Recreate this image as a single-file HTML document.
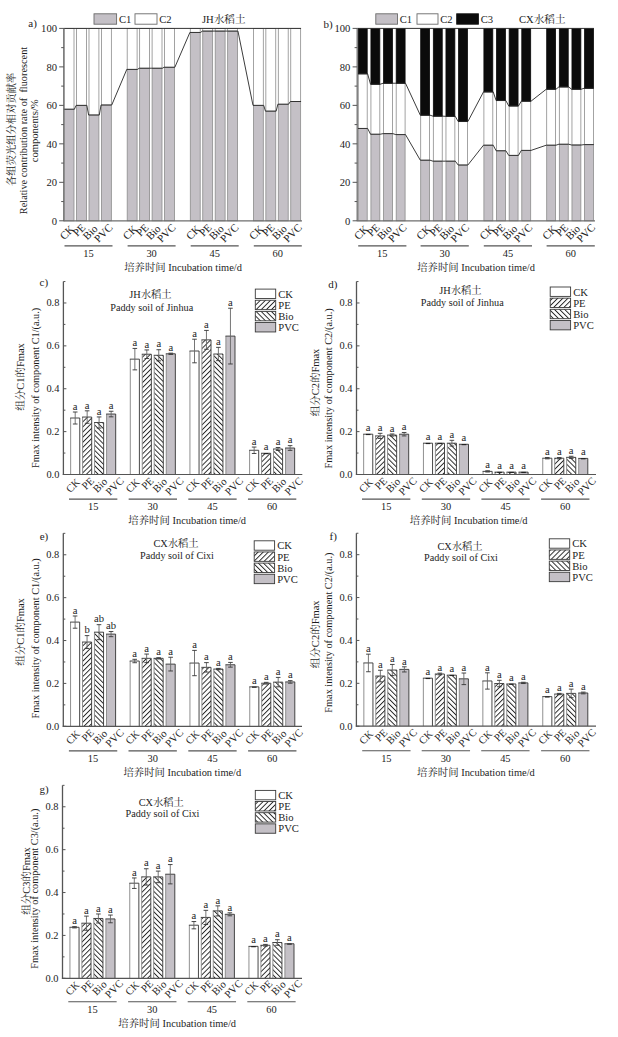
<!DOCTYPE html>
<html><head><meta charset="utf-8"><title>Figure</title>
<style>
html,body{margin:0;padding:0;background:#fff;}
body{width:618px;height:1037px;overflow:hidden;}
svg{display:block;}
text{font-family:'Liberation Serif','Noto Serif CJK SC',serif;fill:#1c1c1c;}
</style></head>
<body>
<svg width="618" height="1037" viewBox="0 0 618 1037">
<defs>
<pattern id="hpe" patternUnits="userSpaceOnUse" width="3.6" height="3.6" patternTransform="rotate(45)">
<rect width="3.6" height="3.6" fill="#fff"/><rect x="0" y="0" width="0.95" height="3.6" fill="#262626"/></pattern>
<pattern id="hbio" patternUnits="userSpaceOnUse" width="3.6" height="3.6" patternTransform="rotate(-45)">
<rect width="3.6" height="3.6" fill="#fff"/><rect x="0" y="0" width="0.95" height="3.6" fill="#262626"/></pattern>
</defs>
<rect width="618" height="1037" fill="#fff"/>
<rect x="64.1" y="109.21" width="9.9" height="111.59" fill="#c4c0c6" stroke="#8c8c8c" stroke-width="0.8" />
<rect x="64.1" y="28.4" width="9.9" height="80.81" fill="#ffffff" stroke="#8c8c8c" stroke-width="0.8" />
<rect x="76.55" y="105.36" width="9.9" height="115.44" fill="#c4c0c6" stroke="#8c8c8c" stroke-width="0.8" />
<rect x="76.55" y="28.4" width="9.9" height="76.96" fill="#ffffff" stroke="#8c8c8c" stroke-width="0.8" />
<rect x="89" y="114.98" width="9.9" height="105.82" fill="#c4c0c6" stroke="#8c8c8c" stroke-width="0.8" />
<rect x="89" y="28.4" width="9.9" height="86.58" fill="#ffffff" stroke="#8c8c8c" stroke-width="0.8" />
<rect x="101.45" y="104.98" width="9.9" height="115.82" fill="#c4c0c6" stroke="#8c8c8c" stroke-width="0.8" />
<rect x="101.45" y="28.4" width="9.9" height="76.58" fill="#ffffff" stroke="#8c8c8c" stroke-width="0.8" />
<rect x="127.2" y="69.38" width="9.9" height="151.42" fill="#c4c0c6" stroke="#8c8c8c" stroke-width="0.8" />
<rect x="127.2" y="28.4" width="9.9" height="40.98" fill="#ffffff" stroke="#8c8c8c" stroke-width="0.8" />
<rect x="139.65" y="68.23" width="9.9" height="152.57" fill="#c4c0c6" stroke="#8c8c8c" stroke-width="0.8" />
<rect x="139.65" y="28.4" width="9.9" height="39.83" fill="#ffffff" stroke="#8c8c8c" stroke-width="0.8" />
<rect x="152.1" y="68.23" width="9.9" height="152.57" fill="#c4c0c6" stroke="#8c8c8c" stroke-width="0.8" />
<rect x="152.1" y="28.4" width="9.9" height="39.83" fill="#ffffff" stroke="#8c8c8c" stroke-width="0.8" />
<rect x="164.55" y="67.26" width="9.9" height="153.54" fill="#c4c0c6" stroke="#8c8c8c" stroke-width="0.8" />
<rect x="164.55" y="28.4" width="9.9" height="38.86" fill="#ffffff" stroke="#8c8c8c" stroke-width="0.8" />
<rect x="190.3" y="32.44" width="9.9" height="188.36" fill="#c4c0c6" stroke="#8c8c8c" stroke-width="0.8" />
<rect x="190.3" y="28.4" width="9.9" height="4.04" fill="#ffffff" stroke="#8c8c8c" stroke-width="0.8" />
<rect x="202.75" y="31.09" width="9.9" height="189.71" fill="#c4c0c6" stroke="#8c8c8c" stroke-width="0.8" />
<rect x="202.75" y="28.4" width="9.9" height="2.69" fill="#ffffff" stroke="#8c8c8c" stroke-width="0.8" />
<rect x="215.2" y="31.09" width="9.9" height="189.71" fill="#c4c0c6" stroke="#8c8c8c" stroke-width="0.8" />
<rect x="215.2" y="28.4" width="9.9" height="2.69" fill="#ffffff" stroke="#8c8c8c" stroke-width="0.8" />
<rect x="227.65" y="31.09" width="9.9" height="189.71" fill="#c4c0c6" stroke="#8c8c8c" stroke-width="0.8" />
<rect x="227.65" y="28.4" width="9.9" height="2.69" fill="#ffffff" stroke="#8c8c8c" stroke-width="0.8" />
<rect x="253.4" y="105.36" width="9.9" height="115.44" fill="#c4c0c6" stroke="#8c8c8c" stroke-width="0.8" />
<rect x="253.4" y="28.4" width="9.9" height="76.96" fill="#ffffff" stroke="#8c8c8c" stroke-width="0.8" />
<rect x="265.85" y="111.13" width="9.9" height="109.67" fill="#c4c0c6" stroke="#8c8c8c" stroke-width="0.8" />
<rect x="265.85" y="28.4" width="9.9" height="82.73" fill="#ffffff" stroke="#8c8c8c" stroke-width="0.8" />
<rect x="278.3" y="104.21" width="9.9" height="116.59" fill="#c4c0c6" stroke="#8c8c8c" stroke-width="0.8" />
<rect x="278.3" y="28.4" width="9.9" height="75.81" fill="#ffffff" stroke="#8c8c8c" stroke-width="0.8" />
<rect x="290.75" y="101.51" width="9.9" height="119.29" fill="#c4c0c6" stroke="#8c8c8c" stroke-width="0.8" />
<rect x="290.75" y="28.4" width="9.9" height="73.11" fill="#ffffff" stroke="#8c8c8c" stroke-width="0.8" />
<path d="M63.7,109.21 L74.4,109.21 L76.15,105.36 L86.85,105.36 L88.6,114.98 L99.3,114.98 L101.05,104.98 L111.75,104.98 L126.8,69.38 L137.5,69.38 L139.25,68.23 L149.95,68.23 L151.7,68.23 L162.4,68.23 L164.15,67.26 L174.85,67.26 L189.9,32.44 L200.6,32.44 L202.35,31.09 L213.05,31.09 L214.8,31.09 L225.5,31.09 L227.25,31.09 L237.95,31.09 L253,105.36 L263.7,105.36 L265.45,111.13 L276.15,111.13 L277.9,104.21 L288.6,104.21 L290.35,101.51 L301.05,101.51" fill="none" stroke="#262626" stroke-width="0.9"/>
<line x1="63.8" y1="28.4" x2="301.05" y2="28.4" stroke="#333" stroke-width="1.0"/>
<line x1="63.8" y1="221.3" x2="63.8" y2="27.9" stroke="#6e6e6e" stroke-width="1.3"/>
<line x1="63.8" y1="220.8" x2="302" y2="220.8" stroke="#6e6e6e" stroke-width="1.2"/>
<line x1="59.2" y1="220.8" x2="63.8" y2="220.8" stroke="#555555" stroke-width="1.0"/>
<text x="57" y="224.8" font-size="10.6" text-anchor="end" >0</text>
<line x1="61.2" y1="201.56" x2="63.8" y2="201.56" stroke="#555555" stroke-width="1.0"/>
<line x1="59.2" y1="182.32" x2="63.8" y2="182.32" stroke="#555555" stroke-width="1.0"/>
<text x="57" y="186.32" font-size="10.6" text-anchor="end" >20</text>
<line x1="61.2" y1="163.08" x2="63.8" y2="163.08" stroke="#555555" stroke-width="1.0"/>
<line x1="59.2" y1="143.84" x2="63.8" y2="143.84" stroke="#555555" stroke-width="1.0"/>
<text x="57" y="147.84" font-size="10.6" text-anchor="end" >40</text>
<line x1="61.2" y1="124.6" x2="63.8" y2="124.6" stroke="#555555" stroke-width="1.0"/>
<line x1="59.2" y1="105.36" x2="63.8" y2="105.36" stroke="#555555" stroke-width="1.0"/>
<text x="57" y="109.36" font-size="10.6" text-anchor="end" >60</text>
<line x1="61.2" y1="86.12" x2="63.8" y2="86.12" stroke="#555555" stroke-width="1.0"/>
<line x1="59.2" y1="66.88" x2="63.8" y2="66.88" stroke="#555555" stroke-width="1.0"/>
<text x="57" y="70.88" font-size="10.6" text-anchor="end" >80</text>
<line x1="61.2" y1="47.64" x2="63.8" y2="47.64" stroke="#555555" stroke-width="1.0"/>
<line x1="59.2" y1="28.4" x2="63.8" y2="28.4" stroke="#555555" stroke-width="1.0"/>
<text x="57" y="32.4" font-size="10.6" text-anchor="end" >100</text>
<rect x="94" y="13.8" width="22.6" height="10.4" fill="#c4c0c6" stroke="#6a6a6a" stroke-width="0.9" />
<text x="118.9" y="23.4" font-size="10.6" text-anchor="start" >C1</text>
<rect x="135" y="13.8" width="22" height="10.4" fill="#ffffff" stroke="#6a6a6a" stroke-width="0.9" />
<text x="159.3" y="23.4" font-size="10.6" text-anchor="start" >C2</text>
<text x="202" y="23.2" font-size="10.6" text-anchor="start" >JH水稻土</text>
<text x="28.3" y="27.3" font-size="11" text-anchor="start" >a)</text>
<rect x="358.3" y="128.45" width="8.9" height="92.35" fill="#c4c0c6" stroke="#8c8c8c" stroke-width="0.8" />
<rect x="358.3" y="73.81" width="8.9" height="54.64" fill="#ffffff" stroke="#8c8c8c" stroke-width="0.8" />
<rect x="358.3" y="28.4" width="8.9" height="45.41" fill="#0b0b0b" stroke="#0b0b0b" stroke-width="0.8" />
<rect x="370.93" y="134.22" width="8.9" height="86.58" fill="#c4c0c6" stroke="#8c8c8c" stroke-width="0.8" />
<rect x="370.93" y="84.2" width="8.9" height="50.02" fill="#ffffff" stroke="#8c8c8c" stroke-width="0.8" />
<rect x="370.93" y="28.4" width="8.9" height="55.8" fill="#0b0b0b" stroke="#0b0b0b" stroke-width="0.8" />
<rect x="383.56" y="133.64" width="8.9" height="87.16" fill="#c4c0c6" stroke="#8c8c8c" stroke-width="0.8" />
<rect x="383.56" y="83.23" width="8.9" height="50.41" fill="#ffffff" stroke="#8c8c8c" stroke-width="0.8" />
<rect x="383.56" y="28.4" width="8.9" height="54.83" fill="#0b0b0b" stroke="#0b0b0b" stroke-width="0.8" />
<rect x="396.19" y="134.6" width="8.9" height="86.2" fill="#c4c0c6" stroke="#8c8c8c" stroke-width="0.8" />
<rect x="396.19" y="83.23" width="8.9" height="51.37" fill="#ffffff" stroke="#8c8c8c" stroke-width="0.8" />
<rect x="396.19" y="28.4" width="8.9" height="54.83" fill="#0b0b0b" stroke="#0b0b0b" stroke-width="0.8" />
<rect x="420.7" y="160.19" width="8.9" height="60.61" fill="#c4c0c6" stroke="#8c8c8c" stroke-width="0.8" />
<rect x="420.7" y="115.17" width="8.9" height="45.02" fill="#ffffff" stroke="#8c8c8c" stroke-width="0.8" />
<rect x="420.7" y="28.4" width="8.9" height="86.77" fill="#0b0b0b" stroke="#0b0b0b" stroke-width="0.8" />
<rect x="433.33" y="161.16" width="8.9" height="59.64" fill="#c4c0c6" stroke="#8c8c8c" stroke-width="0.8" />
<rect x="433.33" y="116.13" width="8.9" height="45.02" fill="#ffffff" stroke="#8c8c8c" stroke-width="0.8" />
<rect x="433.33" y="28.4" width="8.9" height="87.73" fill="#0b0b0b" stroke="#0b0b0b" stroke-width="0.8" />
<rect x="445.96" y="161.16" width="8.9" height="59.64" fill="#c4c0c6" stroke="#8c8c8c" stroke-width="0.8" />
<rect x="445.96" y="116.33" width="8.9" height="44.83" fill="#ffffff" stroke="#8c8c8c" stroke-width="0.8" />
<rect x="445.96" y="28.4" width="8.9" height="87.93" fill="#0b0b0b" stroke="#0b0b0b" stroke-width="0.8" />
<rect x="458.59" y="165" width="8.9" height="55.8" fill="#c4c0c6" stroke="#8c8c8c" stroke-width="0.8" />
<rect x="458.59" y="121.52" width="8.9" height="43.48" fill="#ffffff" stroke="#8c8c8c" stroke-width="0.8" />
<rect x="458.59" y="28.4" width="8.9" height="93.12" fill="#0b0b0b" stroke="#0b0b0b" stroke-width="0.8" />
<rect x="483.9" y="145.19" width="8.9" height="75.61" fill="#c4c0c6" stroke="#8c8c8c" stroke-width="0.8" />
<rect x="483.9" y="91.89" width="8.9" height="53.29" fill="#ffffff" stroke="#8c8c8c" stroke-width="0.8" />
<rect x="483.9" y="28.4" width="8.9" height="63.49" fill="#0b0b0b" stroke="#0b0b0b" stroke-width="0.8" />
<rect x="496.53" y="150.77" width="8.9" height="70.03" fill="#c4c0c6" stroke="#8c8c8c" stroke-width="0.8" />
<rect x="496.53" y="100.55" width="8.9" height="50.22" fill="#ffffff" stroke="#8c8c8c" stroke-width="0.8" />
<rect x="496.53" y="28.4" width="8.9" height="72.15" fill="#0b0b0b" stroke="#0b0b0b" stroke-width="0.8" />
<rect x="509.16" y="155.38" width="8.9" height="65.42" fill="#c4c0c6" stroke="#8c8c8c" stroke-width="0.8" />
<rect x="509.16" y="105.94" width="8.9" height="49.45" fill="#ffffff" stroke="#8c8c8c" stroke-width="0.8" />
<rect x="509.16" y="28.4" width="8.9" height="77.54" fill="#0b0b0b" stroke="#0b0b0b" stroke-width="0.8" />
<rect x="521.79" y="150.38" width="8.9" height="70.42" fill="#c4c0c6" stroke="#8c8c8c" stroke-width="0.8" />
<rect x="521.79" y="101.13" width="8.9" height="49.25" fill="#ffffff" stroke="#8c8c8c" stroke-width="0.8" />
<rect x="521.79" y="28.4" width="8.9" height="72.73" fill="#0b0b0b" stroke="#0b0b0b" stroke-width="0.8" />
<rect x="546.7" y="145.19" width="8.9" height="75.61" fill="#c4c0c6" stroke="#8c8c8c" stroke-width="0.8" />
<rect x="546.7" y="89.2" width="8.9" height="55.99" fill="#ffffff" stroke="#8c8c8c" stroke-width="0.8" />
<rect x="546.7" y="28.4" width="8.9" height="60.8" fill="#0b0b0b" stroke="#0b0b0b" stroke-width="0.8" />
<rect x="559.33" y="144.22" width="8.9" height="76.58" fill="#c4c0c6" stroke="#8c8c8c" stroke-width="0.8" />
<rect x="559.33" y="86.89" width="8.9" height="57.34" fill="#ffffff" stroke="#8c8c8c" stroke-width="0.8" />
<rect x="559.33" y="28.4" width="8.9" height="58.49" fill="#0b0b0b" stroke="#0b0b0b" stroke-width="0.8" />
<rect x="571.96" y="144.99" width="8.9" height="75.81" fill="#c4c0c6" stroke="#8c8c8c" stroke-width="0.8" />
<rect x="571.96" y="89.2" width="8.9" height="55.8" fill="#ffffff" stroke="#8c8c8c" stroke-width="0.8" />
<rect x="571.96" y="28.4" width="8.9" height="60.8" fill="#0b0b0b" stroke="#0b0b0b" stroke-width="0.8" />
<rect x="584.59" y="144.61" width="8.9" height="76.19" fill="#c4c0c6" stroke="#8c8c8c" stroke-width="0.8" />
<rect x="584.59" y="88.24" width="8.9" height="56.37" fill="#ffffff" stroke="#8c8c8c" stroke-width="0.8" />
<rect x="584.59" y="28.4" width="8.9" height="59.84" fill="#0b0b0b" stroke="#0b0b0b" stroke-width="0.8" />
<path d="M357.9,128.45 L367.6,128.45 L370.53,134.22 L380.23,134.22 L383.16,133.64 L392.86,133.64 L395.79,134.6 L405.49,134.6 L420.3,160.19 L430,160.19 L432.93,161.16 L442.63,161.16 L445.56,161.16 L455.26,161.16 L458.19,165 L467.89,165 L483.5,145.19 L493.2,145.19 L496.13,150.77 L505.83,150.77 L508.76,155.38 L518.46,155.38 L521.39,150.38 L531.09,150.38 L546.3,145.19 L556,145.19 L558.93,144.22 L568.63,144.22 L571.56,144.99 L581.26,144.99 L584.19,144.61 L593.89,144.61" fill="none" stroke="#262626" stroke-width="0.9"/>
<path d="M357.9,73.81 L367.6,73.81 L370.53,84.2 L380.23,84.2 L383.16,83.23 L392.86,83.23 L395.79,83.23 L405.49,83.23 L420.3,115.17 L430,115.17 L432.93,116.13 L442.63,116.13 L445.56,116.33 L455.26,116.33 L458.19,121.52 L467.89,121.52 L483.5,91.89 L493.2,91.89 L496.13,100.55 L505.83,100.55 L508.76,105.94 L518.46,105.94 L521.39,101.13 L531.09,101.13 L546.3,89.2 L556,89.2 L558.93,86.89 L568.63,86.89 L571.56,89.2 L581.26,89.2 L584.19,88.24 L593.89,88.24" fill="none" stroke="#262626" stroke-width="0.9"/>
<line x1="357.2" y1="28.4" x2="593.89" y2="28.4" stroke="#333" stroke-width="1.0"/>
<line x1="357.2" y1="221.3" x2="357.2" y2="27.9" stroke="#6e6e6e" stroke-width="1.3"/>
<line x1="357.2" y1="220.8" x2="595" y2="220.8" stroke="#6e6e6e" stroke-width="1.2"/>
<line x1="352.6" y1="220.8" x2="357.2" y2="220.8" stroke="#555555" stroke-width="1.0"/>
<text x="350.4" y="224.8" font-size="10.6" text-anchor="end" >0</text>
<line x1="354.6" y1="201.56" x2="357.2" y2="201.56" stroke="#555555" stroke-width="1.0"/>
<line x1="352.6" y1="182.32" x2="357.2" y2="182.32" stroke="#555555" stroke-width="1.0"/>
<text x="350.4" y="186.32" font-size="10.6" text-anchor="end" >20</text>
<line x1="354.6" y1="163.08" x2="357.2" y2="163.08" stroke="#555555" stroke-width="1.0"/>
<line x1="352.6" y1="143.84" x2="357.2" y2="143.84" stroke="#555555" stroke-width="1.0"/>
<text x="350.4" y="147.84" font-size="10.6" text-anchor="end" >40</text>
<line x1="354.6" y1="124.6" x2="357.2" y2="124.6" stroke="#555555" stroke-width="1.0"/>
<line x1="352.6" y1="105.36" x2="357.2" y2="105.36" stroke="#555555" stroke-width="1.0"/>
<text x="350.4" y="109.36" font-size="10.6" text-anchor="end" >60</text>
<line x1="354.6" y1="86.12" x2="357.2" y2="86.12" stroke="#555555" stroke-width="1.0"/>
<line x1="352.6" y1="66.88" x2="357.2" y2="66.88" stroke="#555555" stroke-width="1.0"/>
<text x="350.4" y="70.88" font-size="10.6" text-anchor="end" >80</text>
<line x1="354.6" y1="47.64" x2="357.2" y2="47.64" stroke="#555555" stroke-width="1.0"/>
<line x1="352.6" y1="28.4" x2="357.2" y2="28.4" stroke="#555555" stroke-width="1.0"/>
<text x="350.4" y="32.4" font-size="10.6" text-anchor="end" >100</text>
<rect x="375.8" y="13.8" width="21.7" height="10.4" fill="#c4c0c6" stroke="#6a6a6a" stroke-width="0.9" />
<text x="399.8" y="23.4" font-size="10.6" text-anchor="start" >C1</text>
<rect x="417" y="13.8" width="21" height="10.4" fill="#ffffff" stroke="#6a6a6a" stroke-width="0.9" />
<text x="440.3" y="23.4" font-size="10.6" text-anchor="start" >C2</text>
<rect x="456.7" y="13.8" width="21.7" height="10.4" fill="#0b0b0b" stroke="#111" stroke-width="0.9" />
<text x="480.7" y="23.4" font-size="10.6" text-anchor="start" >C3</text>
<text x="519" y="23.2" font-size="10.6" text-anchor="start" >CX水稻土</text>
<text x="323.5" y="27.5" font-size="11" text-anchor="start" >b)</text>
<text x="0" y="3.56" font-size="10.8" text-anchor="middle" transform="translate(67.05,232.45) rotate(-45)">CK</text>
<text x="0" y="3.56" font-size="10.8" text-anchor="middle" transform="translate(79.25,230.15) rotate(-45)">PE</text>
<text x="0" y="3.56" font-size="10.8" text-anchor="middle" transform="translate(90.3,232.45) rotate(-45)">Bio</text>
<text x="0" y="3.56" font-size="10.8" text-anchor="middle" transform="translate(103.3,233) rotate(-45)">PVC</text>
<text x="0" y="3.56" font-size="10.8" text-anchor="middle" transform="translate(130.15,232.45) rotate(-45)">CK</text>
<text x="0" y="3.56" font-size="10.8" text-anchor="middle" transform="translate(142.35,230.15) rotate(-45)">PE</text>
<text x="0" y="3.56" font-size="10.8" text-anchor="middle" transform="translate(153.4,232.45) rotate(-45)">Bio</text>
<text x="0" y="3.56" font-size="10.8" text-anchor="middle" transform="translate(166.4,233) rotate(-45)">PVC</text>
<text x="0" y="3.56" font-size="10.8" text-anchor="middle" transform="translate(193.25,232.45) rotate(-45)">CK</text>
<text x="0" y="3.56" font-size="10.8" text-anchor="middle" transform="translate(205.45,230.15) rotate(-45)">PE</text>
<text x="0" y="3.56" font-size="10.8" text-anchor="middle" transform="translate(216.5,232.45) rotate(-45)">Bio</text>
<text x="0" y="3.56" font-size="10.8" text-anchor="middle" transform="translate(229.5,233) rotate(-45)">PVC</text>
<text x="0" y="3.56" font-size="10.8" text-anchor="middle" transform="translate(256.35,232.45) rotate(-45)">CK</text>
<text x="0" y="3.56" font-size="10.8" text-anchor="middle" transform="translate(268.55,230.15) rotate(-45)">PE</text>
<text x="0" y="3.56" font-size="10.8" text-anchor="middle" transform="translate(279.6,232.45) rotate(-45)">Bio</text>
<text x="0" y="3.56" font-size="10.8" text-anchor="middle" transform="translate(292.6,233) rotate(-45)">PVC</text>
<line x1="64.5" y1="245.9" x2="112.5" y2="245.9" stroke="#555" stroke-width="1.1"/>
<text x="88.5" y="256.6" font-size="10.4" text-anchor="middle" >15</text>
<line x1="127.6" y1="245.9" x2="175.6" y2="245.9" stroke="#555" stroke-width="1.1"/>
<text x="151.6" y="256.6" font-size="10.4" text-anchor="middle" >30</text>
<line x1="190.7" y1="245.9" x2="238.7" y2="245.9" stroke="#555" stroke-width="1.1"/>
<text x="214.7" y="256.6" font-size="10.4" text-anchor="middle" >45</text>
<line x1="253.8" y1="245.9" x2="301.8" y2="245.9" stroke="#555" stroke-width="1.1"/>
<text x="277.8" y="256.6" font-size="10.4" text-anchor="middle" >60</text>
<text x="0" y="3.56" font-size="10.8" text-anchor="middle" transform="translate(361.25,232.45) rotate(-45)">CK</text>
<text x="0" y="3.56" font-size="10.8" text-anchor="middle" transform="translate(373.45,230.15) rotate(-45)">PE</text>
<text x="0" y="3.56" font-size="10.8" text-anchor="middle" transform="translate(384.5,232.45) rotate(-45)">Bio</text>
<text x="0" y="3.56" font-size="10.8" text-anchor="middle" transform="translate(397.5,233) rotate(-45)">PVC</text>
<text x="0" y="3.56" font-size="10.8" text-anchor="middle" transform="translate(423.65,232.45) rotate(-45)">CK</text>
<text x="0" y="3.56" font-size="10.8" text-anchor="middle" transform="translate(435.85,230.15) rotate(-45)">PE</text>
<text x="0" y="3.56" font-size="10.8" text-anchor="middle" transform="translate(446.9,232.45) rotate(-45)">Bio</text>
<text x="0" y="3.56" font-size="10.8" text-anchor="middle" transform="translate(459.9,233) rotate(-45)">PVC</text>
<text x="0" y="3.56" font-size="10.8" text-anchor="middle" transform="translate(486.85,232.45) rotate(-45)">CK</text>
<text x="0" y="3.56" font-size="10.8" text-anchor="middle" transform="translate(499.05,230.15) rotate(-45)">PE</text>
<text x="0" y="3.56" font-size="10.8" text-anchor="middle" transform="translate(510.1,232.45) rotate(-45)">Bio</text>
<text x="0" y="3.56" font-size="10.8" text-anchor="middle" transform="translate(523.1,233) rotate(-45)">PVC</text>
<text x="0" y="3.56" font-size="10.8" text-anchor="middle" transform="translate(549.65,232.45) rotate(-45)">CK</text>
<text x="0" y="3.56" font-size="10.8" text-anchor="middle" transform="translate(561.85,230.15) rotate(-45)">PE</text>
<text x="0" y="3.56" font-size="10.8" text-anchor="middle" transform="translate(572.9,232.45) rotate(-45)">Bio</text>
<text x="0" y="3.56" font-size="10.8" text-anchor="middle" transform="translate(585.9,233) rotate(-45)">PVC</text>
<line x1="358.2" y1="245.9" x2="406.4" y2="245.9" stroke="#555" stroke-width="1.1"/>
<text x="382.3" y="256.6" font-size="10.4" text-anchor="middle" >15</text>
<line x1="420.6" y1="245.9" x2="468.8" y2="245.9" stroke="#555" stroke-width="1.1"/>
<text x="444.7" y="256.6" font-size="10.4" text-anchor="middle" >30</text>
<line x1="483.8" y1="245.9" x2="532" y2="245.9" stroke="#555" stroke-width="1.1"/>
<text x="507.9" y="256.6" font-size="10.4" text-anchor="middle" >45</text>
<line x1="546.6" y1="245.9" x2="594.8" y2="245.9" stroke="#555" stroke-width="1.1"/>
<text x="570.7" y="256.6" font-size="10.4" text-anchor="middle" >60</text>
<text x="183" y="270.6" font-size="10.4" text-anchor="middle" >培养时间 Incubation time/d</text>
<text x="476" y="270.6" font-size="10.4" text-anchor="middle" >培养时间 Incubation time/d</text>
<text x="0" y="0" font-size="10.3" text-anchor="middle" transform="translate(15,129.3) rotate(-90)" >各组荧光组分相对贡献率</text>
<text x="0" y="0" font-size="10.3" text-anchor="middle" transform="translate(26.8,130.5) rotate(-90)" >Relative contribution rate of&#160; fluorescent</text>
<text x="0" y="0" font-size="10.6" text-anchor="middle" transform="translate(37.5,130.8) rotate(-90)" >components/%</text>
<rect x="70.65" y="418.01" width="9.1" height="56.49" fill="#ffffff" />
<line x1="70.65" y1="474.5" x2="70.65" y2="418.01" stroke="#8a8a8a" stroke-width="0.95"/>
<path d="M70.2,418.01 L79.75,418.01 L79.75,474.5" fill="none" stroke="#333" stroke-width="0.9"/>
<rect x="82.6" y="417.04" width="9.1" height="57.46" fill="url(#hpe)" />
<line x1="82.6" y1="474.5" x2="82.6" y2="417.04" stroke="#8a8a8a" stroke-width="0.95"/>
<path d="M82.15,417.04 L91.7,417.04 L91.7,474.5" fill="none" stroke="#333" stroke-width="0.9"/>
<rect x="94.55" y="422.51" width="9.1" height="51.99" fill="url(#hbio)" />
<line x1="94.55" y1="474.5" x2="94.55" y2="422.51" stroke="#8a8a8a" stroke-width="0.95"/>
<path d="M94.1,422.51 L103.65,422.51 L103.65,474.5" fill="none" stroke="#333" stroke-width="0.9"/>
<rect x="106.6" y="414.04" width="9.1" height="60.46" fill="#c4c0c6" />
<line x1="106.6" y1="474.5" x2="106.6" y2="414.04" stroke="#8a8a8a" stroke-width="0.95"/>
<path d="M106.15,414.04 L115.7,414.04 L115.7,474.5" fill="none" stroke="#333" stroke-width="0.9"/>
<rect x="130.3" y="359.15" width="9.1" height="115.35" fill="#ffffff" />
<line x1="130.3" y1="474.5" x2="130.3" y2="359.15" stroke="#8a8a8a" stroke-width="0.95"/>
<path d="M129.85,359.15 L139.4,359.15 L139.4,474.5" fill="none" stroke="#333" stroke-width="0.9"/>
<rect x="142.25" y="354.22" width="9.1" height="120.28" fill="url(#hpe)" />
<line x1="142.25" y1="474.5" x2="142.25" y2="354.22" stroke="#8a8a8a" stroke-width="0.95"/>
<path d="M141.8,354.22 L151.35,354.22 L151.35,474.5" fill="none" stroke="#333" stroke-width="0.9"/>
<rect x="154.2" y="355.29" width="9.1" height="119.21" fill="url(#hbio)" />
<line x1="154.2" y1="474.5" x2="154.2" y2="355.29" stroke="#8a8a8a" stroke-width="0.95"/>
<path d="M153.75,355.29 L163.3,355.29 L163.3,474.5" fill="none" stroke="#333" stroke-width="0.9"/>
<rect x="166.25" y="353.79" width="9.1" height="120.71" fill="#c4c0c6" />
<line x1="166.25" y1="474.5" x2="166.25" y2="353.79" stroke="#8a8a8a" stroke-width="0.95"/>
<path d="M165.8,353.79 L175.35,353.79 L175.35,474.5" fill="none" stroke="#333" stroke-width="0.9"/>
<rect x="189.95" y="351.01" width="9.1" height="123.49" fill="#ffffff" />
<line x1="189.95" y1="474.5" x2="189.95" y2="351.01" stroke="#8a8a8a" stroke-width="0.95"/>
<path d="M189.5,351.01 L199.05,351.01 L199.05,474.5" fill="none" stroke="#333" stroke-width="0.9"/>
<rect x="201.9" y="339.86" width="9.1" height="134.64" fill="url(#hpe)" />
<line x1="201.9" y1="474.5" x2="201.9" y2="339.86" stroke="#8a8a8a" stroke-width="0.95"/>
<path d="M201.45,339.86 L211,339.86 L211,474.5" fill="none" stroke="#333" stroke-width="0.9"/>
<rect x="213.85" y="354.01" width="9.1" height="120.49" fill="url(#hbio)" />
<line x1="213.85" y1="474.5" x2="213.85" y2="354.01" stroke="#8a8a8a" stroke-width="0.95"/>
<path d="M213.4,354.01 L222.95,354.01 L222.95,474.5" fill="none" stroke="#333" stroke-width="0.9"/>
<rect x="225.9" y="336.1" width="9.1" height="138.4" fill="#c4c0c6" />
<line x1="225.9" y1="474.5" x2="225.9" y2="336.1" stroke="#8a8a8a" stroke-width="0.95"/>
<path d="M225.45,336.1 L235,336.1 L235,474.5" fill="none" stroke="#333" stroke-width="0.9"/>
<rect x="249.6" y="450.27" width="9.1" height="24.23" fill="#ffffff" />
<line x1="249.6" y1="474.5" x2="249.6" y2="450.27" stroke="#8a8a8a" stroke-width="0.95"/>
<path d="M249.15,450.27 L258.7,450.27 L258.7,474.5" fill="none" stroke="#333" stroke-width="0.9"/>
<rect x="261.55" y="453.27" width="9.1" height="21.23" fill="url(#hpe)" />
<line x1="261.55" y1="474.5" x2="261.55" y2="453.27" stroke="#8a8a8a" stroke-width="0.95"/>
<path d="M261.1,453.27 L270.65,453.27 L270.65,474.5" fill="none" stroke="#333" stroke-width="0.9"/>
<rect x="273.5" y="448.99" width="9.1" height="25.51" fill="url(#hbio)" />
<line x1="273.5" y1="474.5" x2="273.5" y2="448.99" stroke="#8a8a8a" stroke-width="0.95"/>
<path d="M273.05,448.99 L282.6,448.99 L282.6,474.5" fill="none" stroke="#333" stroke-width="0.9"/>
<rect x="285.55" y="448" width="9.1" height="26.5" fill="#c4c0c6" />
<line x1="285.55" y1="474.5" x2="285.55" y2="448" stroke="#8a8a8a" stroke-width="0.95"/>
<path d="M285.1,448 L294.65,448 L294.65,474.5" fill="none" stroke="#333" stroke-width="0.9"/>
<line x1="75.2" y1="412" x2="75.2" y2="424.01" stroke="#666" stroke-width="0.9"/>
<line x1="72.9" y1="412" x2="77.5" y2="412" stroke="#333" stroke-width="0.9"/>
<line x1="72.9" y1="424.01" x2="77.5" y2="424.01" stroke="#333" stroke-width="0.9"/>
<text x="75.2" y="409.7" font-size="10.6" text-anchor="middle" >a</text>
<line x1="87.15" y1="410.82" x2="87.15" y2="423.26" stroke="#666" stroke-width="0.9"/>
<line x1="84.85" y1="410.82" x2="89.45" y2="410.82" stroke="#333" stroke-width="0.9"/>
<line x1="84.85" y1="423.26" x2="89.45" y2="423.26" stroke="#333" stroke-width="0.9"/>
<text x="87.15" y="408.52" font-size="10.6" text-anchor="middle" >a</text>
<line x1="99.1" y1="416.93" x2="99.1" y2="428.08" stroke="#666" stroke-width="0.9"/>
<line x1="96.8" y1="416.93" x2="101.4" y2="416.93" stroke="#333" stroke-width="0.9"/>
<line x1="96.8" y1="428.08" x2="101.4" y2="428.08" stroke="#333" stroke-width="0.9"/>
<text x="99.1" y="414.63" font-size="10.6" text-anchor="middle" >a</text>
<line x1="111.15" y1="411.25" x2="111.15" y2="416.83" stroke="#666" stroke-width="0.9"/>
<line x1="108.85" y1="411.25" x2="113.45" y2="411.25" stroke="#333" stroke-width="0.9"/>
<line x1="108.85" y1="416.83" x2="113.45" y2="416.83" stroke="#333" stroke-width="0.9"/>
<text x="111.15" y="408.95" font-size="10.6" text-anchor="middle" >a</text>
<line x1="134.85" y1="348.43" x2="134.85" y2="369.87" stroke="#666" stroke-width="0.9"/>
<line x1="132.55" y1="348.43" x2="137.15" y2="348.43" stroke="#333" stroke-width="0.9"/>
<line x1="132.55" y1="369.87" x2="137.15" y2="369.87" stroke="#333" stroke-width="0.9"/>
<text x="134.85" y="346.13" font-size="10.6" text-anchor="middle" >a</text>
<line x1="146.8" y1="349.93" x2="146.8" y2="358.51" stroke="#666" stroke-width="0.9"/>
<line x1="144.5" y1="349.93" x2="149.1" y2="349.93" stroke="#333" stroke-width="0.9"/>
<line x1="144.5" y1="358.51" x2="149.1" y2="358.51" stroke="#333" stroke-width="0.9"/>
<text x="146.8" y="347.63" font-size="10.6" text-anchor="middle" >a</text>
<line x1="158.75" y1="349.72" x2="158.75" y2="360.87" stroke="#666" stroke-width="0.9"/>
<line x1="156.45" y1="349.72" x2="161.05" y2="349.72" stroke="#333" stroke-width="0.9"/>
<line x1="156.45" y1="360.87" x2="161.05" y2="360.87" stroke="#333" stroke-width="0.9"/>
<text x="158.75" y="347.42" font-size="10.6" text-anchor="middle" >a</text>
<line x1="170.8" y1="353.15" x2="170.8" y2="354.44" stroke="#666" stroke-width="0.9"/>
<line x1="168.5" y1="353.15" x2="173.1" y2="353.15" stroke="#333" stroke-width="0.9"/>
<line x1="168.5" y1="354.44" x2="173.1" y2="354.44" stroke="#333" stroke-width="0.9"/>
<text x="170.8" y="350.64" font-size="10.6" text-anchor="middle" >a</text>
<line x1="194.5" y1="339.21" x2="194.5" y2="362.8" stroke="#666" stroke-width="0.9"/>
<line x1="192.2" y1="339.21" x2="196.8" y2="339.21" stroke="#333" stroke-width="0.9"/>
<line x1="192.2" y1="362.8" x2="196.8" y2="362.8" stroke="#333" stroke-width="0.9"/>
<text x="194.5" y="336.91" font-size="10.6" text-anchor="middle" >a</text>
<line x1="206.45" y1="330.42" x2="206.45" y2="349.29" stroke="#666" stroke-width="0.9"/>
<line x1="204.15" y1="330.42" x2="208.75" y2="330.42" stroke="#333" stroke-width="0.9"/>
<line x1="204.15" y1="349.29" x2="208.75" y2="349.29" stroke="#333" stroke-width="0.9"/>
<text x="206.45" y="328.12" font-size="10.6" text-anchor="middle" >a</text>
<line x1="218.4" y1="347.36" x2="218.4" y2="360.65" stroke="#666" stroke-width="0.9"/>
<line x1="216.1" y1="347.36" x2="220.7" y2="347.36" stroke="#333" stroke-width="0.9"/>
<line x1="216.1" y1="360.65" x2="220.7" y2="360.65" stroke="#333" stroke-width="0.9"/>
<text x="218.4" y="345.06" font-size="10.6" text-anchor="middle" >a</text>
<line x1="230.45" y1="308.23" x2="230.45" y2="363.98" stroke="#666" stroke-width="0.9"/>
<line x1="228.15" y1="308.23" x2="232.75" y2="308.23" stroke="#333" stroke-width="0.9"/>
<line x1="228.15" y1="363.98" x2="232.75" y2="363.98" stroke="#333" stroke-width="0.9"/>
<text x="230.45" y="305.93" font-size="10.6" text-anchor="middle" >a</text>
<line x1="254.15" y1="447.06" x2="254.15" y2="453.49" stroke="#666" stroke-width="0.9"/>
<line x1="251.85" y1="447.06" x2="256.45" y2="447.06" stroke="#333" stroke-width="0.9"/>
<line x1="251.85" y1="453.49" x2="256.45" y2="453.49" stroke="#333" stroke-width="0.9"/>
<text x="254.15" y="444.76" font-size="10.6" text-anchor="middle" >a</text>
<line x1="263.8" y1="453.57" x2="268.4" y2="453.57" stroke="#222" stroke-width="1.2"/>
<text x="266.1" y="450.12" font-size="10.6" text-anchor="middle" >a</text>
<line x1="278.05" y1="447.49" x2="278.05" y2="450.49" stroke="#666" stroke-width="0.9"/>
<line x1="275.75" y1="447.49" x2="280.35" y2="447.49" stroke="#333" stroke-width="0.9"/>
<line x1="275.75" y1="450.49" x2="280.35" y2="450.49" stroke="#333" stroke-width="0.9"/>
<text x="278.05" y="445.19" font-size="10.6" text-anchor="middle" >a</text>
<line x1="290.1" y1="445.64" x2="290.1" y2="450.36" stroke="#666" stroke-width="0.9"/>
<line x1="287.8" y1="445.64" x2="292.4" y2="445.64" stroke="#333" stroke-width="0.9"/>
<line x1="287.8" y1="450.36" x2="292.4" y2="450.36" stroke="#333" stroke-width="0.9"/>
<text x="290.1" y="443.34" font-size="10.6" text-anchor="middle" >a</text>
<line x1="63.4" y1="475" x2="63.4" y2="281.54" stroke="#555555" stroke-width="1.3"/>
<line x1="62.8" y1="474.5" x2="302.3" y2="474.5" stroke="#555555" stroke-width="1.2"/>
<line x1="63.4" y1="474.5" x2="66.4" y2="474.5" stroke="#555555" stroke-width="1.0"/>
<text x="59.4" y="478" font-size="10.4" text-anchor="end" >0.0</text>
<line x1="63.4" y1="453.06" x2="65.4" y2="453.06" stroke="#555555" stroke-width="1.0"/>
<line x1="63.4" y1="431.62" x2="66.4" y2="431.62" stroke="#555555" stroke-width="1.0"/>
<text x="59.4" y="435.12" font-size="10.4" text-anchor="end" >0.2</text>
<line x1="63.4" y1="410.18" x2="65.4" y2="410.18" stroke="#555555" stroke-width="1.0"/>
<line x1="63.4" y1="388.74" x2="66.4" y2="388.74" stroke="#555555" stroke-width="1.0"/>
<text x="59.4" y="392.24" font-size="10.4" text-anchor="end" >0.4</text>
<line x1="63.4" y1="367.3" x2="65.4" y2="367.3" stroke="#555555" stroke-width="1.0"/>
<line x1="63.4" y1="345.86" x2="66.4" y2="345.86" stroke="#555555" stroke-width="1.0"/>
<text x="59.4" y="349.36" font-size="10.4" text-anchor="end" >0.6</text>
<line x1="63.4" y1="324.42" x2="65.4" y2="324.42" stroke="#555555" stroke-width="1.0"/>
<line x1="63.4" y1="302.98" x2="66.4" y2="302.98" stroke="#555555" stroke-width="1.0"/>
<text x="59.4" y="306.48" font-size="10.4" text-anchor="end" >0.8</text>
<line x1="63.4" y1="281.54" x2="65.4" y2="281.54" stroke="#555555" stroke-width="1.0"/>
<text x="39.5" y="286" font-size="11" text-anchor="start" >c)</text>
<text x="150.5" y="298.3" font-size="10.3" text-anchor="middle" >JH水稻土</text>
<text x="151.7" y="310.6" font-size="10.2" text-anchor="middle" >Paddy soil of Jinhua</text>
<rect x="255.3" y="289.1" width="20.4" height="9.4" fill="#ffffff" stroke="#3a3a3a" stroke-width="0.9" />
<text x="278.3" y="297.7" font-size="10.6" text-anchor="start" >CK</text>
<rect x="255.3" y="300.25" width="20.4" height="9.4" fill="url(#hpe)" stroke="#3a3a3a" stroke-width="0.9" />
<text x="278.3" y="308.85" font-size="10.6" text-anchor="start" >PE</text>
<rect x="255.3" y="311.4" width="20.4" height="9.4" fill="url(#hbio)" stroke="#3a3a3a" stroke-width="0.9" />
<text x="278.3" y="320" font-size="10.6" text-anchor="start" >Bio</text>
<rect x="255.3" y="322.55" width="20.4" height="9.4" fill="#c4c0c6" stroke="#3a3a3a" stroke-width="0.9" />
<text x="278.3" y="331.15" font-size="10.6" text-anchor="start" >PVC</text>
<text x="0" y="3.5" font-size="10.6" text-anchor="middle" transform="translate(73.1,485.5) rotate(-45)">CK</text>
<text x="0" y="3.5" font-size="10.6" text-anchor="middle" transform="translate(87.95,483.5) rotate(-45)">PE</text>
<text x="0" y="3.5" font-size="10.6" text-anchor="middle" transform="translate(100.2,485.3) rotate(-45)">Bio</text>
<text x="0" y="3.5" font-size="10.6" text-anchor="middle" transform="translate(114.75,486.2) rotate(-45)">PVC</text>
<text x="0" y="3.5" font-size="10.6" text-anchor="middle" transform="translate(132.75,485.5) rotate(-45)">CK</text>
<text x="0" y="3.5" font-size="10.6" text-anchor="middle" transform="translate(147.6,483.5) rotate(-45)">PE</text>
<text x="0" y="3.5" font-size="10.6" text-anchor="middle" transform="translate(159.85,485.3) rotate(-45)">Bio</text>
<text x="0" y="3.5" font-size="10.6" text-anchor="middle" transform="translate(174.4,486.2) rotate(-45)">PVC</text>
<text x="0" y="3.5" font-size="10.6" text-anchor="middle" transform="translate(192.4,485.5) rotate(-45)">CK</text>
<text x="0" y="3.5" font-size="10.6" text-anchor="middle" transform="translate(207.25,483.5) rotate(-45)">PE</text>
<text x="0" y="3.5" font-size="10.6" text-anchor="middle" transform="translate(219.5,485.3) rotate(-45)">Bio</text>
<text x="0" y="3.5" font-size="10.6" text-anchor="middle" transform="translate(234.05,486.2) rotate(-45)">PVC</text>
<text x="0" y="3.5" font-size="10.6" text-anchor="middle" transform="translate(252.05,485.5) rotate(-45)">CK</text>
<text x="0" y="3.5" font-size="10.6" text-anchor="middle" transform="translate(266.9,483.5) rotate(-45)">PE</text>
<text x="0" y="3.5" font-size="10.6" text-anchor="middle" transform="translate(279.15,485.3) rotate(-45)">Bio</text>
<text x="0" y="3.5" font-size="10.6" text-anchor="middle" transform="translate(293.7,486.2) rotate(-45)">PVC</text>
<line x1="69" y1="499.1" x2="117.35" y2="499.1" stroke="#555" stroke-width="1.1"/>
<text x="93.18" y="510" font-size="10.4" text-anchor="middle" >15</text>
<line x1="128.65" y1="499.1" x2="177" y2="499.1" stroke="#555" stroke-width="1.1"/>
<text x="152.82" y="510" font-size="10.4" text-anchor="middle" >30</text>
<line x1="188.3" y1="499.1" x2="236.65" y2="499.1" stroke="#555" stroke-width="1.1"/>
<text x="212.47" y="510" font-size="10.4" text-anchor="middle" >45</text>
<line x1="247.95" y1="499.1" x2="296.3" y2="499.1" stroke="#555" stroke-width="1.1"/>
<text x="272.12" y="510" font-size="10.4" text-anchor="middle" >60</text>
<text x="187.2" y="523.6" font-size="10.4" text-anchor="middle" >培养时间 Incubation time/d</text>
<text x="0" y="0" font-size="10.5" text-anchor="middle" transform="translate(24.2,377) rotate(-90)" >组分C1的Fmax</text>
<text x="0" y="0" font-size="10.3" text-anchor="middle" transform="translate(38.8,387.8) rotate(-90)" >Fmax intensity of component C1/(a.u.)</text>
<rect x="363.65" y="434.19" width="9.1" height="40.31" fill="#ffffff" />
<line x1="363.65" y1="474.5" x2="363.65" y2="434.19" stroke="#8a8a8a" stroke-width="0.95"/>
<path d="M363.2,434.19 L372.75,434.19 L372.75,474.5" fill="none" stroke="#333" stroke-width="0.9"/>
<rect x="375.6" y="435.91" width="9.1" height="38.59" fill="url(#hpe)" />
<line x1="375.6" y1="474.5" x2="375.6" y2="435.91" stroke="#8a8a8a" stroke-width="0.95"/>
<path d="M375.15,435.91 L384.7,435.91 L384.7,474.5" fill="none" stroke="#333" stroke-width="0.9"/>
<rect x="387.55" y="435.05" width="9.1" height="39.45" fill="url(#hbio)" />
<line x1="387.55" y1="474.5" x2="387.55" y2="435.05" stroke="#8a8a8a" stroke-width="0.95"/>
<path d="M387.1,435.05 L396.65,435.05 L396.65,474.5" fill="none" stroke="#333" stroke-width="0.9"/>
<rect x="399.6" y="434.19" width="9.1" height="40.31" fill="#c4c0c6" />
<line x1="399.6" y1="474.5" x2="399.6" y2="434.19" stroke="#8a8a8a" stroke-width="0.95"/>
<path d="M399.15,434.19 L408.7,434.19 L408.7,474.5" fill="none" stroke="#333" stroke-width="0.9"/>
<rect x="423.45" y="443.2" width="9.1" height="31.3" fill="#ffffff" />
<line x1="423.45" y1="474.5" x2="423.45" y2="443.2" stroke="#8a8a8a" stroke-width="0.95"/>
<path d="M423,443.2 L432.55,443.2 L432.55,474.5" fill="none" stroke="#333" stroke-width="0.9"/>
<rect x="435.4" y="443.2" width="9.1" height="31.3" fill="url(#hpe)" />
<line x1="435.4" y1="474.5" x2="435.4" y2="443.2" stroke="#8a8a8a" stroke-width="0.95"/>
<path d="M434.95,443.2 L444.5,443.2 L444.5,474.5" fill="none" stroke="#333" stroke-width="0.9"/>
<rect x="447.35" y="443.2" width="9.1" height="31.3" fill="url(#hbio)" />
<line x1="447.35" y1="474.5" x2="447.35" y2="443.2" stroke="#8a8a8a" stroke-width="0.95"/>
<path d="M446.9,443.2 L456.45,443.2 L456.45,474.5" fill="none" stroke="#333" stroke-width="0.9"/>
<rect x="459.4" y="444.27" width="9.1" height="30.23" fill="#c4c0c6" />
<line x1="459.4" y1="474.5" x2="459.4" y2="444.27" stroke="#8a8a8a" stroke-width="0.95"/>
<path d="M458.95,444.27 L468.5,444.27 L468.5,474.5" fill="none" stroke="#333" stroke-width="0.9"/>
<rect x="483.05" y="471.39" width="9.1" height="3.11" fill="#ffffff" />
<line x1="483.05" y1="474.5" x2="483.05" y2="471.39" stroke="#8a8a8a" stroke-width="0.95"/>
<path d="M482.6,471.39 L492.15,471.39 L492.15,474.5" fill="none" stroke="#333" stroke-width="0.9"/>
<rect x="495" y="472.14" width="9.1" height="2.36" fill="url(#hpe)" />
<line x1="495" y1="474.5" x2="495" y2="472.14" stroke="#8a8a8a" stroke-width="0.95"/>
<path d="M494.55,472.14 L504.1,472.14 L504.1,474.5" fill="none" stroke="#333" stroke-width="0.9"/>
<rect x="506.95" y="472.14" width="9.1" height="2.36" fill="url(#hbio)" />
<line x1="506.95" y1="474.5" x2="506.95" y2="472.14" stroke="#8a8a8a" stroke-width="0.95"/>
<path d="M506.5,472.14 L516.05,472.14 L516.05,474.5" fill="none" stroke="#333" stroke-width="0.9"/>
<rect x="519" y="472.14" width="9.1" height="2.36" fill="#c4c0c6" />
<line x1="519" y1="474.5" x2="519" y2="472.14" stroke="#8a8a8a" stroke-width="0.95"/>
<path d="M518.55,472.14 L528.1,472.14 L528.1,474.5" fill="none" stroke="#333" stroke-width="0.9"/>
<rect x="542.75" y="458.21" width="9.1" height="16.29" fill="#ffffff" />
<line x1="542.75" y1="474.5" x2="542.75" y2="458.21" stroke="#8a8a8a" stroke-width="0.95"/>
<path d="M542.3,458.21 L551.85,458.21 L551.85,474.5" fill="none" stroke="#333" stroke-width="0.9"/>
<rect x="554.7" y="458.21" width="9.1" height="16.29" fill="url(#hpe)" />
<line x1="554.7" y1="474.5" x2="554.7" y2="458.21" stroke="#8a8a8a" stroke-width="0.95"/>
<path d="M554.25,458.21 L563.8,458.21 L563.8,474.5" fill="none" stroke="#333" stroke-width="0.9"/>
<rect x="566.65" y="457.35" width="9.1" height="17.15" fill="url(#hbio)" />
<line x1="566.65" y1="474.5" x2="566.65" y2="457.35" stroke="#8a8a8a" stroke-width="0.95"/>
<path d="M566.2,457.35 L575.75,457.35 L575.75,474.5" fill="none" stroke="#333" stroke-width="0.9"/>
<rect x="578.7" y="458.42" width="9.1" height="16.08" fill="#c4c0c6" />
<line x1="578.7" y1="474.5" x2="578.7" y2="458.42" stroke="#8a8a8a" stroke-width="0.95"/>
<path d="M578.25,458.42 L587.8,458.42 L587.8,474.5" fill="none" stroke="#333" stroke-width="0.9"/>
<line x1="365.9" y1="434.49" x2="370.5" y2="434.49" stroke="#222" stroke-width="1.2"/>
<text x="368.2" y="431.04" font-size="10.6" text-anchor="middle" >a</text>
<line x1="380.15" y1="433.34" x2="380.15" y2="438.48" stroke="#666" stroke-width="0.9"/>
<line x1="377.85" y1="433.34" x2="382.45" y2="433.34" stroke="#333" stroke-width="0.9"/>
<line x1="377.85" y1="438.48" x2="382.45" y2="438.48" stroke="#333" stroke-width="0.9"/>
<text x="380.15" y="431.04" font-size="10.6" text-anchor="middle" >a</text>
<line x1="392.1" y1="433.98" x2="392.1" y2="436.12" stroke="#666" stroke-width="0.9"/>
<line x1="389.8" y1="433.98" x2="394.4" y2="433.98" stroke="#333" stroke-width="0.9"/>
<line x1="389.8" y1="436.12" x2="394.4" y2="436.12" stroke="#333" stroke-width="0.9"/>
<text x="392.1" y="431.68" font-size="10.6" text-anchor="middle" >a</text>
<line x1="404.15" y1="432.48" x2="404.15" y2="435.91" stroke="#666" stroke-width="0.9"/>
<line x1="401.85" y1="432.48" x2="406.45" y2="432.48" stroke="#333" stroke-width="0.9"/>
<line x1="401.85" y1="435.91" x2="406.45" y2="435.91" stroke="#333" stroke-width="0.9"/>
<text x="404.15" y="430.18" font-size="10.6" text-anchor="middle" >a</text>
<line x1="425.7" y1="443.5" x2="430.3" y2="443.5" stroke="#222" stroke-width="1.2"/>
<text x="428" y="440.04" font-size="10.6" text-anchor="middle" >a</text>
<line x1="437.65" y1="443.5" x2="442.25" y2="443.5" stroke="#222" stroke-width="1.2"/>
<text x="439.95" y="440.04" font-size="10.6" text-anchor="middle" >a</text>
<line x1="451.9" y1="440.3" x2="451.9" y2="446.09" stroke="#666" stroke-width="0.9"/>
<line x1="449.6" y1="440.3" x2="454.2" y2="440.3" stroke="#333" stroke-width="0.9"/>
<line x1="449.6" y1="446.09" x2="454.2" y2="446.09" stroke="#333" stroke-width="0.9"/>
<text x="451.9" y="438" font-size="10.6" text-anchor="middle" >a</text>
<line x1="461.65" y1="444.57" x2="466.25" y2="444.57" stroke="#222" stroke-width="1.2"/>
<text x="463.95" y="441.11" font-size="10.6" text-anchor="middle" >a</text>
<line x1="487.6" y1="470.75" x2="487.6" y2="472.03" stroke="#666" stroke-width="0.9"/>
<line x1="485.3" y1="470.75" x2="489.9" y2="470.75" stroke="#333" stroke-width="0.9"/>
<line x1="485.3" y1="472.03" x2="489.9" y2="472.03" stroke="#333" stroke-width="0.9"/>
<text x="487.6" y="468.23" font-size="10.6" text-anchor="middle" >a</text>
<line x1="497.25" y1="472.44" x2="501.85" y2="472.44" stroke="#222" stroke-width="1.2"/>
<text x="499.55" y="468.98" font-size="10.6" text-anchor="middle" >a</text>
<line x1="509.2" y1="472.44" x2="513.8" y2="472.44" stroke="#222" stroke-width="1.2"/>
<text x="511.5" y="468.98" font-size="10.6" text-anchor="middle" >a</text>
<line x1="521.25" y1="472.44" x2="525.85" y2="472.44" stroke="#222" stroke-width="1.2"/>
<text x="523.55" y="468.98" font-size="10.6" text-anchor="middle" >a</text>
<line x1="547.3" y1="457.56" x2="547.3" y2="458.85" stroke="#666" stroke-width="0.9"/>
<line x1="545" y1="457.56" x2="549.6" y2="457.56" stroke="#333" stroke-width="0.9"/>
<line x1="545" y1="458.85" x2="549.6" y2="458.85" stroke="#333" stroke-width="0.9"/>
<text x="547.3" y="455.05" font-size="10.6" text-anchor="middle" >a</text>
<line x1="559.25" y1="457.56" x2="559.25" y2="458.85" stroke="#666" stroke-width="0.9"/>
<line x1="556.95" y1="457.56" x2="561.55" y2="457.56" stroke="#333" stroke-width="0.9"/>
<line x1="556.95" y1="458.85" x2="561.55" y2="458.85" stroke="#333" stroke-width="0.9"/>
<text x="559.25" y="455.05" font-size="10.6" text-anchor="middle" >a</text>
<line x1="571.2" y1="456.28" x2="571.2" y2="458.42" stroke="#666" stroke-width="0.9"/>
<line x1="568.9" y1="456.28" x2="573.5" y2="456.28" stroke="#333" stroke-width="0.9"/>
<line x1="568.9" y1="458.42" x2="573.5" y2="458.42" stroke="#333" stroke-width="0.9"/>
<text x="571.2" y="453.98" font-size="10.6" text-anchor="middle" >a</text>
<line x1="580.95" y1="458.72" x2="585.55" y2="458.72" stroke="#222" stroke-width="1.2"/>
<text x="583.25" y="455.26" font-size="10.6" text-anchor="middle" >a</text>
<line x1="356.5" y1="475" x2="356.5" y2="281.54" stroke="#555555" stroke-width="1.3"/>
<line x1="355.9" y1="474.5" x2="596" y2="474.5" stroke="#555555" stroke-width="1.2"/>
<line x1="356.5" y1="474.5" x2="359.5" y2="474.5" stroke="#555555" stroke-width="1.0"/>
<text x="352.5" y="478" font-size="10.4" text-anchor="end" >0.0</text>
<line x1="356.5" y1="453.06" x2="358.5" y2="453.06" stroke="#555555" stroke-width="1.0"/>
<line x1="356.5" y1="431.62" x2="359.5" y2="431.62" stroke="#555555" stroke-width="1.0"/>
<text x="352.5" y="435.12" font-size="10.4" text-anchor="end" >0.2</text>
<line x1="356.5" y1="410.18" x2="358.5" y2="410.18" stroke="#555555" stroke-width="1.0"/>
<line x1="356.5" y1="388.74" x2="359.5" y2="388.74" stroke="#555555" stroke-width="1.0"/>
<text x="352.5" y="392.24" font-size="10.4" text-anchor="end" >0.4</text>
<line x1="356.5" y1="367.3" x2="358.5" y2="367.3" stroke="#555555" stroke-width="1.0"/>
<line x1="356.5" y1="345.86" x2="359.5" y2="345.86" stroke="#555555" stroke-width="1.0"/>
<text x="352.5" y="349.36" font-size="10.4" text-anchor="end" >0.6</text>
<line x1="356.5" y1="324.42" x2="358.5" y2="324.42" stroke="#555555" stroke-width="1.0"/>
<line x1="356.5" y1="302.98" x2="359.5" y2="302.98" stroke="#555555" stroke-width="1.0"/>
<text x="352.5" y="306.48" font-size="10.4" text-anchor="end" >0.8</text>
<line x1="356.5" y1="281.54" x2="358.5" y2="281.54" stroke="#555555" stroke-width="1.0"/>
<text x="328.3" y="287.5" font-size="11" text-anchor="start" >d)</text>
<text x="460.5" y="293.5" font-size="10.3" text-anchor="middle" >JH水稻土</text>
<text x="462.2" y="305.6" font-size="10.2" text-anchor="middle" >Paddy soil of Jinhua</text>
<rect x="550.2" y="287" width="20.4" height="9.4" fill="#ffffff" stroke="#3a3a3a" stroke-width="0.9" />
<text x="573.2" y="295.6" font-size="10.6" text-anchor="start" >CK</text>
<rect x="550.2" y="298.15" width="20.4" height="9.4" fill="url(#hpe)" stroke="#3a3a3a" stroke-width="0.9" />
<text x="573.2" y="306.75" font-size="10.6" text-anchor="start" >PE</text>
<rect x="550.2" y="309.3" width="20.4" height="9.4" fill="url(#hbio)" stroke="#3a3a3a" stroke-width="0.9" />
<text x="573.2" y="317.9" font-size="10.6" text-anchor="start" >Bio</text>
<rect x="550.2" y="320.45" width="20.4" height="9.4" fill="#c4c0c6" stroke="#3a3a3a" stroke-width="0.9" />
<text x="573.2" y="329.05" font-size="10.6" text-anchor="start" >PVC</text>
<text x="0" y="3.5" font-size="10.6" text-anchor="middle" transform="translate(366.1,485.5) rotate(-45)">CK</text>
<text x="0" y="3.5" font-size="10.6" text-anchor="middle" transform="translate(380.95,483.5) rotate(-45)">PE</text>
<text x="0" y="3.5" font-size="10.6" text-anchor="middle" transform="translate(393.2,485.3) rotate(-45)">Bio</text>
<text x="0" y="3.5" font-size="10.6" text-anchor="middle" transform="translate(407.75,486.2) rotate(-45)">PVC</text>
<text x="0" y="3.5" font-size="10.6" text-anchor="middle" transform="translate(425.9,485.5) rotate(-45)">CK</text>
<text x="0" y="3.5" font-size="10.6" text-anchor="middle" transform="translate(440.75,483.5) rotate(-45)">PE</text>
<text x="0" y="3.5" font-size="10.6" text-anchor="middle" transform="translate(453,485.3) rotate(-45)">Bio</text>
<text x="0" y="3.5" font-size="10.6" text-anchor="middle" transform="translate(467.55,486.2) rotate(-45)">PVC</text>
<text x="0" y="3.5" font-size="10.6" text-anchor="middle" transform="translate(485.5,485.5) rotate(-45)">CK</text>
<text x="0" y="3.5" font-size="10.6" text-anchor="middle" transform="translate(500.35,483.5) rotate(-45)">PE</text>
<text x="0" y="3.5" font-size="10.6" text-anchor="middle" transform="translate(512.6,485.3) rotate(-45)">Bio</text>
<text x="0" y="3.5" font-size="10.6" text-anchor="middle" transform="translate(527.15,486.2) rotate(-45)">PVC</text>
<text x="0" y="3.5" font-size="10.6" text-anchor="middle" transform="translate(545.2,485.5) rotate(-45)">CK</text>
<text x="0" y="3.5" font-size="10.6" text-anchor="middle" transform="translate(560.05,483.5) rotate(-45)">PE</text>
<text x="0" y="3.5" font-size="10.6" text-anchor="middle" transform="translate(572.3,485.3) rotate(-45)">Bio</text>
<text x="0" y="3.5" font-size="10.6" text-anchor="middle" transform="translate(586.85,486.2) rotate(-45)">PVC</text>
<line x1="362" y1="499.1" x2="410.35" y2="499.1" stroke="#555" stroke-width="1.1"/>
<text x="386.17" y="510" font-size="10.4" text-anchor="middle" >15</text>
<line x1="421.8" y1="499.1" x2="470.15" y2="499.1" stroke="#555" stroke-width="1.1"/>
<text x="445.98" y="510" font-size="10.4" text-anchor="middle" >30</text>
<line x1="481.4" y1="499.1" x2="529.75" y2="499.1" stroke="#555" stroke-width="1.1"/>
<text x="505.58" y="510" font-size="10.4" text-anchor="middle" >45</text>
<line x1="541.1" y1="499.1" x2="589.45" y2="499.1" stroke="#555" stroke-width="1.1"/>
<text x="565.27" y="510" font-size="10.4" text-anchor="middle" >60</text>
<text x="468.7" y="523.6" font-size="10.4" text-anchor="middle" >培养时间 Incubation time/d</text>
<text x="0" y="0" font-size="10.5" text-anchor="middle" transform="translate(318.6,382.5) rotate(-90)" >组分C2的Fmax</text>
<text x="0" y="0" font-size="10.3" text-anchor="middle" transform="translate(332,388.3) rotate(-90)" >Fmax intensity of component C2/(a.u.)</text>
<rect x="70.55" y="622.1" width="9.1" height="104.2" fill="#ffffff" />
<line x1="70.55" y1="726.3" x2="70.55" y2="622.1" stroke="#8a8a8a" stroke-width="0.95"/>
<path d="M70.1,622.1 L79.65,622.1 L79.65,726.3" fill="none" stroke="#333" stroke-width="0.9"/>
<rect x="82.5" y="642.04" width="9.1" height="84.26" fill="url(#hpe)" />
<line x1="82.5" y1="726.3" x2="82.5" y2="642.04" stroke="#8a8a8a" stroke-width="0.95"/>
<path d="M82.05,642.04 L91.6,642.04 L91.6,726.3" fill="none" stroke="#333" stroke-width="0.9"/>
<rect x="94.45" y="632.18" width="9.1" height="94.12" fill="url(#hbio)" />
<line x1="94.45" y1="726.3" x2="94.45" y2="632.18" stroke="#8a8a8a" stroke-width="0.95"/>
<path d="M94,632.18 L103.55,632.18 L103.55,726.3" fill="none" stroke="#333" stroke-width="0.9"/>
<rect x="106.5" y="634.11" width="9.1" height="92.19" fill="#c4c0c6" />
<line x1="106.5" y1="726.3" x2="106.5" y2="634.11" stroke="#8a8a8a" stroke-width="0.95"/>
<path d="M106.05,634.11 L115.6,634.11 L115.6,726.3" fill="none" stroke="#333" stroke-width="0.9"/>
<rect x="130.15" y="661.02" width="9.1" height="65.28" fill="#ffffff" />
<line x1="130.15" y1="726.3" x2="130.15" y2="661.02" stroke="#8a8a8a" stroke-width="0.95"/>
<path d="M129.7,661.02 L139.25,661.02 L139.25,726.3" fill="none" stroke="#333" stroke-width="0.9"/>
<rect x="142.1" y="658.34" width="9.1" height="67.96" fill="url(#hpe)" />
<line x1="142.1" y1="726.3" x2="142.1" y2="658.34" stroke="#8a8a8a" stroke-width="0.95"/>
<path d="M141.65,658.34 L151.2,658.34 L151.2,726.3" fill="none" stroke="#333" stroke-width="0.9"/>
<rect x="154.05" y="658.34" width="9.1" height="67.96" fill="url(#hbio)" />
<line x1="154.05" y1="726.3" x2="154.05" y2="658.34" stroke="#8a8a8a" stroke-width="0.95"/>
<path d="M153.6,658.34 L163.15,658.34 L163.15,726.3" fill="none" stroke="#333" stroke-width="0.9"/>
<rect x="166.1" y="664.12" width="9.1" height="62.18" fill="#c4c0c6" />
<line x1="166.1" y1="726.3" x2="166.1" y2="664.12" stroke="#8a8a8a" stroke-width="0.95"/>
<path d="M165.65,664.12 L175.2,664.12 L175.2,726.3" fill="none" stroke="#333" stroke-width="0.9"/>
<rect x="189.95" y="663.05" width="9.1" height="63.25" fill="#ffffff" />
<line x1="189.95" y1="726.3" x2="189.95" y2="663.05" stroke="#8a8a8a" stroke-width="0.95"/>
<path d="M189.5,663.05 L199.05,663.05 L199.05,726.3" fill="none" stroke="#333" stroke-width="0.9"/>
<rect x="201.9" y="667.34" width="9.1" height="58.96" fill="url(#hpe)" />
<line x1="201.9" y1="726.3" x2="201.9" y2="667.34" stroke="#8a8a8a" stroke-width="0.95"/>
<path d="M201.45,667.34 L211,667.34 L211,726.3" fill="none" stroke="#333" stroke-width="0.9"/>
<rect x="213.85" y="669.06" width="9.1" height="57.24" fill="url(#hbio)" />
<line x1="213.85" y1="726.3" x2="213.85" y2="669.06" stroke="#8a8a8a" stroke-width="0.95"/>
<path d="M213.4,669.06 L222.95,669.06 L222.95,726.3" fill="none" stroke="#333" stroke-width="0.9"/>
<rect x="225.9" y="664.77" width="9.1" height="61.53" fill="#c4c0c6" />
<line x1="225.9" y1="726.3" x2="225.9" y2="664.77" stroke="#8a8a8a" stroke-width="0.95"/>
<path d="M225.45,664.77 L235,664.77 L235,726.3" fill="none" stroke="#333" stroke-width="0.9"/>
<rect x="249.75" y="686.85" width="9.1" height="39.45" fill="#ffffff" />
<line x1="249.75" y1="726.3" x2="249.75" y2="686.85" stroke="#8a8a8a" stroke-width="0.95"/>
<path d="M249.3,686.85 L258.85,686.85 L258.85,726.3" fill="none" stroke="#333" stroke-width="0.9"/>
<rect x="261.7" y="683.21" width="9.1" height="43.09" fill="url(#hpe)" />
<line x1="261.7" y1="726.3" x2="261.7" y2="683.21" stroke="#8a8a8a" stroke-width="0.95"/>
<path d="M261.25,683.21 L270.8,683.21 L270.8,726.3" fill="none" stroke="#333" stroke-width="0.9"/>
<rect x="273.65" y="682.13" width="9.1" height="44.17" fill="url(#hbio)" />
<line x1="273.65" y1="726.3" x2="273.65" y2="682.13" stroke="#8a8a8a" stroke-width="0.95"/>
<path d="M273.2,682.13 L282.75,682.13 L282.75,726.3" fill="none" stroke="#333" stroke-width="0.9"/>
<rect x="285.7" y="681.92" width="9.1" height="44.38" fill="#c4c0c6" />
<line x1="285.7" y1="726.3" x2="285.7" y2="681.92" stroke="#8a8a8a" stroke-width="0.95"/>
<path d="M285.25,681.92 L294.8,681.92 L294.8,726.3" fill="none" stroke="#333" stroke-width="0.9"/>
<line x1="75.1" y1="615.99" x2="75.1" y2="628.21" stroke="#666" stroke-width="0.9"/>
<line x1="72.8" y1="615.99" x2="77.4" y2="615.99" stroke="#333" stroke-width="0.9"/>
<line x1="72.8" y1="628.21" x2="77.4" y2="628.21" stroke="#333" stroke-width="0.9"/>
<text x="75.1" y="613.69" font-size="10.6" text-anchor="middle" >a</text>
<line x1="87.05" y1="635.61" x2="87.05" y2="648.47" stroke="#666" stroke-width="0.9"/>
<line x1="84.75" y1="635.61" x2="89.35" y2="635.61" stroke="#333" stroke-width="0.9"/>
<line x1="84.75" y1="648.47" x2="89.35" y2="648.47" stroke="#333" stroke-width="0.9"/>
<text x="87.05" y="633.31" font-size="10.6" text-anchor="middle" >b</text>
<line x1="99" y1="624.67" x2="99" y2="639.68" stroke="#666" stroke-width="0.9"/>
<line x1="96.7" y1="624.67" x2="101.3" y2="624.67" stroke="#333" stroke-width="0.9"/>
<line x1="96.7" y1="639.68" x2="101.3" y2="639.68" stroke="#333" stroke-width="0.9"/>
<text x="99" y="622.37" font-size="10.6" text-anchor="middle" >ab</text>
<line x1="111.05" y1="631.54" x2="111.05" y2="636.68" stroke="#666" stroke-width="0.9"/>
<line x1="108.75" y1="631.54" x2="113.35" y2="631.54" stroke="#333" stroke-width="0.9"/>
<line x1="108.75" y1="636.68" x2="113.35" y2="636.68" stroke="#333" stroke-width="0.9"/>
<text x="111.05" y="629.24" font-size="10.6" text-anchor="middle" >ab</text>
<line x1="134.7" y1="659.3" x2="134.7" y2="662.73" stroke="#666" stroke-width="0.9"/>
<line x1="132.4" y1="659.3" x2="137" y2="659.3" stroke="#333" stroke-width="0.9"/>
<line x1="132.4" y1="662.73" x2="137" y2="662.73" stroke="#333" stroke-width="0.9"/>
<text x="134.7" y="657" font-size="10.6" text-anchor="middle" >a</text>
<line x1="146.65" y1="654.05" x2="146.65" y2="662.62" stroke="#666" stroke-width="0.9"/>
<line x1="144.35" y1="654.05" x2="148.95" y2="654.05" stroke="#333" stroke-width="0.9"/>
<line x1="144.35" y1="662.62" x2="148.95" y2="662.62" stroke="#333" stroke-width="0.9"/>
<text x="146.65" y="651.75" font-size="10.6" text-anchor="middle" >a</text>
<line x1="158.6" y1="657.69" x2="158.6" y2="658.98" stroke="#666" stroke-width="0.9"/>
<line x1="156.3" y1="657.69" x2="160.9" y2="657.69" stroke="#333" stroke-width="0.9"/>
<line x1="156.3" y1="658.98" x2="160.9" y2="658.98" stroke="#333" stroke-width="0.9"/>
<text x="158.6" y="655.18" font-size="10.6" text-anchor="middle" >a</text>
<line x1="170.65" y1="657.26" x2="170.65" y2="670.98" stroke="#666" stroke-width="0.9"/>
<line x1="168.35" y1="657.26" x2="172.95" y2="657.26" stroke="#333" stroke-width="0.9"/>
<line x1="168.35" y1="670.98" x2="172.95" y2="670.98" stroke="#333" stroke-width="0.9"/>
<text x="170.65" y="654.96" font-size="10.6" text-anchor="middle" >a</text>
<line x1="194.5" y1="650.4" x2="194.5" y2="675.7" stroke="#666" stroke-width="0.9"/>
<line x1="192.2" y1="650.4" x2="196.8" y2="650.4" stroke="#333" stroke-width="0.9"/>
<line x1="192.2" y1="675.7" x2="196.8" y2="675.7" stroke="#333" stroke-width="0.9"/>
<text x="194.5" y="648.1" font-size="10.6" text-anchor="middle" >a</text>
<line x1="206.45" y1="662.62" x2="206.45" y2="672.06" stroke="#666" stroke-width="0.9"/>
<line x1="204.15" y1="662.62" x2="208.75" y2="662.62" stroke="#333" stroke-width="0.9"/>
<line x1="204.15" y1="672.06" x2="208.75" y2="672.06" stroke="#333" stroke-width="0.9"/>
<text x="206.45" y="660.32" font-size="10.6" text-anchor="middle" >a</text>
<line x1="218.4" y1="668.41" x2="218.4" y2="669.7" stroke="#666" stroke-width="0.9"/>
<line x1="216.1" y1="668.41" x2="220.7" y2="668.41" stroke="#333" stroke-width="0.9"/>
<line x1="216.1" y1="669.7" x2="220.7" y2="669.7" stroke="#333" stroke-width="0.9"/>
<text x="218.4" y="665.9" font-size="10.6" text-anchor="middle" >a</text>
<line x1="230.45" y1="662.41" x2="230.45" y2="667.13" stroke="#666" stroke-width="0.9"/>
<line x1="228.15" y1="662.41" x2="232.75" y2="662.41" stroke="#333" stroke-width="0.9"/>
<line x1="228.15" y1="667.13" x2="232.75" y2="667.13" stroke="#333" stroke-width="0.9"/>
<text x="230.45" y="660.11" font-size="10.6" text-anchor="middle" >a</text>
<line x1="252" y1="687.15" x2="256.6" y2="687.15" stroke="#222" stroke-width="1.2"/>
<text x="254.3" y="683.69" font-size="10.6" text-anchor="middle" >a</text>
<line x1="266.25" y1="682.35" x2="266.25" y2="684.06" stroke="#666" stroke-width="0.9"/>
<line x1="263.95" y1="682.35" x2="268.55" y2="682.35" stroke="#333" stroke-width="0.9"/>
<line x1="263.95" y1="684.06" x2="268.55" y2="684.06" stroke="#333" stroke-width="0.9"/>
<text x="266.25" y="680.05" font-size="10.6" text-anchor="middle" >a</text>
<line x1="278.2" y1="677.42" x2="278.2" y2="686.85" stroke="#666" stroke-width="0.9"/>
<line x1="275.9" y1="677.42" x2="280.5" y2="677.42" stroke="#333" stroke-width="0.9"/>
<line x1="275.9" y1="686.85" x2="280.5" y2="686.85" stroke="#333" stroke-width="0.9"/>
<text x="278.2" y="675.12" font-size="10.6" text-anchor="middle" >a</text>
<line x1="290.25" y1="680.63" x2="290.25" y2="683.21" stroke="#666" stroke-width="0.9"/>
<line x1="287.95" y1="680.63" x2="292.55" y2="680.63" stroke="#333" stroke-width="0.9"/>
<line x1="287.95" y1="683.21" x2="292.55" y2="683.21" stroke="#333" stroke-width="0.9"/>
<text x="290.25" y="678.33" font-size="10.6" text-anchor="middle" >a</text>
<line x1="63.3" y1="726.8" x2="63.3" y2="533.34" stroke="#555555" stroke-width="1.3"/>
<line x1="62.7" y1="726.3" x2="302" y2="726.3" stroke="#555555" stroke-width="1.2"/>
<line x1="63.3" y1="726.3" x2="66.3" y2="726.3" stroke="#555555" stroke-width="1.0"/>
<text x="59.3" y="729.8" font-size="10.4" text-anchor="end" >0.0</text>
<line x1="63.3" y1="704.86" x2="65.3" y2="704.86" stroke="#555555" stroke-width="1.0"/>
<line x1="63.3" y1="683.42" x2="66.3" y2="683.42" stroke="#555555" stroke-width="1.0"/>
<text x="59.3" y="686.92" font-size="10.4" text-anchor="end" >0.2</text>
<line x1="63.3" y1="661.98" x2="65.3" y2="661.98" stroke="#555555" stroke-width="1.0"/>
<line x1="63.3" y1="640.54" x2="66.3" y2="640.54" stroke="#555555" stroke-width="1.0"/>
<text x="59.3" y="644.04" font-size="10.4" text-anchor="end" >0.4</text>
<line x1="63.3" y1="619.1" x2="65.3" y2="619.1" stroke="#555555" stroke-width="1.0"/>
<line x1="63.3" y1="597.66" x2="66.3" y2="597.66" stroke="#555555" stroke-width="1.0"/>
<text x="59.3" y="601.16" font-size="10.4" text-anchor="end" >0.6</text>
<line x1="63.3" y1="576.22" x2="65.3" y2="576.22" stroke="#555555" stroke-width="1.0"/>
<line x1="63.3" y1="554.78" x2="66.3" y2="554.78" stroke="#555555" stroke-width="1.0"/>
<text x="59.3" y="558.28" font-size="10.4" text-anchor="end" >0.8</text>
<line x1="63.3" y1="533.34" x2="65.3" y2="533.34" stroke="#555555" stroke-width="1.0"/>
<text x="39.7" y="539.5" font-size="11" text-anchor="start" >e)</text>
<text x="176" y="546.6" font-size="10.3" text-anchor="middle" >CX水稻土</text>
<text x="177" y="559.3" font-size="10.2" text-anchor="middle" >Paddy soil of Cixi</text>
<rect x="254.2" y="540.8" width="20.4" height="9.4" fill="#ffffff" stroke="#3a3a3a" stroke-width="0.9" />
<text x="277.2" y="549.4" font-size="10.6" text-anchor="start" >CK</text>
<rect x="254.2" y="551.95" width="20.4" height="9.4" fill="url(#hpe)" stroke="#3a3a3a" stroke-width="0.9" />
<text x="277.2" y="560.55" font-size="10.6" text-anchor="start" >PE</text>
<rect x="254.2" y="563.1" width="20.4" height="9.4" fill="url(#hbio)" stroke="#3a3a3a" stroke-width="0.9" />
<text x="277.2" y="571.7" font-size="10.6" text-anchor="start" >Bio</text>
<rect x="254.2" y="574.25" width="20.4" height="9.4" fill="#c4c0c6" stroke="#3a3a3a" stroke-width="0.9" />
<text x="277.2" y="582.85" font-size="10.6" text-anchor="start" >PVC</text>
<text x="0" y="3.5" font-size="10.6" text-anchor="middle" transform="translate(73,737.3) rotate(-45)">CK</text>
<text x="0" y="3.5" font-size="10.6" text-anchor="middle" transform="translate(87.85,735.3) rotate(-45)">PE</text>
<text x="0" y="3.5" font-size="10.6" text-anchor="middle" transform="translate(100.1,737.1) rotate(-45)">Bio</text>
<text x="0" y="3.5" font-size="10.6" text-anchor="middle" transform="translate(114.65,738) rotate(-45)">PVC</text>
<text x="0" y="3.5" font-size="10.6" text-anchor="middle" transform="translate(132.6,737.3) rotate(-45)">CK</text>
<text x="0" y="3.5" font-size="10.6" text-anchor="middle" transform="translate(147.45,735.3) rotate(-45)">PE</text>
<text x="0" y="3.5" font-size="10.6" text-anchor="middle" transform="translate(159.7,737.1) rotate(-45)">Bio</text>
<text x="0" y="3.5" font-size="10.6" text-anchor="middle" transform="translate(174.25,738) rotate(-45)">PVC</text>
<text x="0" y="3.5" font-size="10.6" text-anchor="middle" transform="translate(192.4,737.3) rotate(-45)">CK</text>
<text x="0" y="3.5" font-size="10.6" text-anchor="middle" transform="translate(207.25,735.3) rotate(-45)">PE</text>
<text x="0" y="3.5" font-size="10.6" text-anchor="middle" transform="translate(219.5,737.1) rotate(-45)">Bio</text>
<text x="0" y="3.5" font-size="10.6" text-anchor="middle" transform="translate(234.05,738) rotate(-45)">PVC</text>
<text x="0" y="3.5" font-size="10.6" text-anchor="middle" transform="translate(252.2,737.3) rotate(-45)">CK</text>
<text x="0" y="3.5" font-size="10.6" text-anchor="middle" transform="translate(267.05,735.3) rotate(-45)">PE</text>
<text x="0" y="3.5" font-size="10.6" text-anchor="middle" transform="translate(279.3,737.1) rotate(-45)">Bio</text>
<text x="0" y="3.5" font-size="10.6" text-anchor="middle" transform="translate(293.85,738) rotate(-45)">PVC</text>
<line x1="68.9" y1="750.9" x2="117.25" y2="750.9" stroke="#555" stroke-width="1.1"/>
<text x="93.07" y="761.8" font-size="10.4" text-anchor="middle" >15</text>
<line x1="128.5" y1="750.9" x2="176.85" y2="750.9" stroke="#555" stroke-width="1.1"/>
<text x="152.67" y="761.8" font-size="10.4" text-anchor="middle" >30</text>
<line x1="188.3" y1="750.9" x2="236.65" y2="750.9" stroke="#555" stroke-width="1.1"/>
<text x="212.47" y="761.8" font-size="10.4" text-anchor="middle" >45</text>
<line x1="248.1" y1="750.9" x2="296.45" y2="750.9" stroke="#555" stroke-width="1.1"/>
<text x="272.27" y="761.8" font-size="10.4" text-anchor="middle" >60</text>
<text x="182.3" y="776.2" font-size="10.4" text-anchor="middle" >培养时间 Incubation time/d</text>
<text x="0" y="0" font-size="10.5" text-anchor="middle" transform="translate(23.5,632) rotate(-90)" >组分C1的Fmax</text>
<text x="0" y="0" font-size="10.3" text-anchor="middle" transform="translate(38.9,638.3) rotate(-90)" >Fmax intensity of component C1/(a.u.)</text>
<rect x="363.85" y="662.95" width="9.1" height="63.25" fill="#ffffff" />
<line x1="363.85" y1="726.2" x2="363.85" y2="662.95" stroke="#8a8a8a" stroke-width="0.95"/>
<path d="M363.4,662.95 L372.95,662.95 L372.95,726.2" fill="none" stroke="#333" stroke-width="0.9"/>
<rect x="375.8" y="676.03" width="9.1" height="50.17" fill="url(#hpe)" />
<line x1="375.8" y1="726.2" x2="375.8" y2="676.03" stroke="#8a8a8a" stroke-width="0.95"/>
<path d="M375.35,676.03 L384.9,676.03 L384.9,726.2" fill="none" stroke="#333" stroke-width="0.9"/>
<rect x="387.75" y="670.03" width="9.1" height="56.17" fill="url(#hbio)" />
<line x1="387.75" y1="726.2" x2="387.75" y2="670.03" stroke="#8a8a8a" stroke-width="0.95"/>
<path d="M387.3,670.03 L396.85,670.03 L396.85,726.2" fill="none" stroke="#333" stroke-width="0.9"/>
<rect x="399.8" y="669.38" width="9.1" height="56.82" fill="#c4c0c6" />
<line x1="399.8" y1="726.2" x2="399.8" y2="669.38" stroke="#8a8a8a" stroke-width="0.95"/>
<path d="M399.35,669.38 L408.9,669.38 L408.9,726.2" fill="none" stroke="#333" stroke-width="0.9"/>
<rect x="423.35" y="678.17" width="9.1" height="48.03" fill="#ffffff" />
<line x1="423.35" y1="726.2" x2="423.35" y2="678.17" stroke="#8a8a8a" stroke-width="0.95"/>
<path d="M422.9,678.17 L432.45,678.17 L432.45,726.2" fill="none" stroke="#333" stroke-width="0.9"/>
<rect x="435.3" y="673.99" width="9.1" height="52.21" fill="url(#hpe)" />
<line x1="435.3" y1="726.2" x2="435.3" y2="673.99" stroke="#8a8a8a" stroke-width="0.95"/>
<path d="M434.85,673.99 L444.4,673.99 L444.4,726.2" fill="none" stroke="#333" stroke-width="0.9"/>
<rect x="447.25" y="675.17" width="9.1" height="51.03" fill="url(#hbio)" />
<line x1="447.25" y1="726.2" x2="447.25" y2="675.17" stroke="#8a8a8a" stroke-width="0.95"/>
<path d="M446.8,675.17 L456.35,675.17 L456.35,726.2" fill="none" stroke="#333" stroke-width="0.9"/>
<rect x="459.3" y="678.82" width="9.1" height="47.38" fill="#c4c0c6" />
<line x1="459.3" y1="726.2" x2="459.3" y2="678.82" stroke="#8a8a8a" stroke-width="0.95"/>
<path d="M458.85,678.82 L468.4,678.82 L468.4,726.2" fill="none" stroke="#333" stroke-width="0.9"/>
<rect x="482.85" y="680.96" width="9.1" height="45.24" fill="#ffffff" />
<line x1="482.85" y1="726.2" x2="482.85" y2="680.96" stroke="#8a8a8a" stroke-width="0.95"/>
<path d="M482.4,680.96 L491.95,680.96 L491.95,726.2" fill="none" stroke="#333" stroke-width="0.9"/>
<rect x="494.8" y="683.53" width="9.1" height="42.67" fill="url(#hpe)" />
<line x1="494.8" y1="726.2" x2="494.8" y2="683.53" stroke="#8a8a8a" stroke-width="0.95"/>
<path d="M494.35,683.53 L503.9,683.53 L503.9,726.2" fill="none" stroke="#333" stroke-width="0.9"/>
<rect x="506.75" y="683.96" width="9.1" height="42.24" fill="url(#hbio)" />
<line x1="506.75" y1="726.2" x2="506.75" y2="683.96" stroke="#8a8a8a" stroke-width="0.95"/>
<path d="M506.3,683.96 L515.85,683.96 L515.85,726.2" fill="none" stroke="#333" stroke-width="0.9"/>
<rect x="518.8" y="682.89" width="9.1" height="43.31" fill="#c4c0c6" />
<line x1="518.8" y1="726.2" x2="518.8" y2="682.89" stroke="#8a8a8a" stroke-width="0.95"/>
<path d="M518.35,682.89 L527.9,682.89 L527.9,726.2" fill="none" stroke="#333" stroke-width="0.9"/>
<rect x="542.75" y="696.61" width="9.1" height="29.59" fill="#ffffff" />
<line x1="542.75" y1="726.2" x2="542.75" y2="696.61" stroke="#8a8a8a" stroke-width="0.95"/>
<path d="M542.3,696.61 L551.85,696.61 L551.85,726.2" fill="none" stroke="#333" stroke-width="0.9"/>
<rect x="554.7" y="694.04" width="9.1" height="32.16" fill="url(#hpe)" />
<line x1="554.7" y1="726.2" x2="554.7" y2="694.04" stroke="#8a8a8a" stroke-width="0.95"/>
<path d="M554.25,694.04 L563.8,694.04 L563.8,726.2" fill="none" stroke="#333" stroke-width="0.9"/>
<rect x="566.65" y="693.4" width="9.1" height="32.8" fill="url(#hbio)" />
<line x1="566.65" y1="726.2" x2="566.65" y2="693.4" stroke="#8a8a8a" stroke-width="0.95"/>
<path d="M566.2,693.4 L575.75,693.4 L575.75,726.2" fill="none" stroke="#333" stroke-width="0.9"/>
<rect x="578.7" y="692.97" width="9.1" height="33.23" fill="#c4c0c6" />
<line x1="578.7" y1="726.2" x2="578.7" y2="692.97" stroke="#8a8a8a" stroke-width="0.95"/>
<path d="M578.25,692.97 L587.8,692.97 L587.8,726.2" fill="none" stroke="#333" stroke-width="0.9"/>
<line x1="368.4" y1="654.16" x2="368.4" y2="671.74" stroke="#666" stroke-width="0.9"/>
<line x1="366.1" y1="654.16" x2="370.7" y2="654.16" stroke="#333" stroke-width="0.9"/>
<line x1="366.1" y1="671.74" x2="370.7" y2="671.74" stroke="#333" stroke-width="0.9"/>
<text x="368.4" y="651.86" font-size="10.6" text-anchor="middle" >a</text>
<line x1="380.35" y1="670.24" x2="380.35" y2="681.82" stroke="#666" stroke-width="0.9"/>
<line x1="378.05" y1="670.24" x2="382.65" y2="670.24" stroke="#333" stroke-width="0.9"/>
<line x1="378.05" y1="681.82" x2="382.65" y2="681.82" stroke="#333" stroke-width="0.9"/>
<text x="380.35" y="667.94" font-size="10.6" text-anchor="middle" >a</text>
<line x1="392.3" y1="664.45" x2="392.3" y2="675.6" stroke="#666" stroke-width="0.9"/>
<line x1="390" y1="664.45" x2="394.6" y2="664.45" stroke="#333" stroke-width="0.9"/>
<line x1="390" y1="675.6" x2="394.6" y2="675.6" stroke="#333" stroke-width="0.9"/>
<text x="392.3" y="662.15" font-size="10.6" text-anchor="middle" >a</text>
<line x1="404.35" y1="666.81" x2="404.35" y2="671.96" stroke="#666" stroke-width="0.9"/>
<line x1="402.05" y1="666.81" x2="406.65" y2="666.81" stroke="#333" stroke-width="0.9"/>
<line x1="402.05" y1="671.96" x2="406.65" y2="671.96" stroke="#333" stroke-width="0.9"/>
<text x="404.35" y="664.51" font-size="10.6" text-anchor="middle" >a</text>
<line x1="425.6" y1="678.47" x2="430.2" y2="678.47" stroke="#222" stroke-width="1.2"/>
<text x="427.9" y="675.02" font-size="10.6" text-anchor="middle" >a</text>
<line x1="439.85" y1="673.14" x2="439.85" y2="674.85" stroke="#666" stroke-width="0.9"/>
<line x1="437.55" y1="673.14" x2="442.15" y2="673.14" stroke="#333" stroke-width="0.9"/>
<line x1="437.55" y1="674.85" x2="442.15" y2="674.85" stroke="#333" stroke-width="0.9"/>
<text x="439.85" y="670.84" font-size="10.6" text-anchor="middle" >a</text>
<line x1="449.5" y1="675.47" x2="454.1" y2="675.47" stroke="#222" stroke-width="1.2"/>
<text x="451.8" y="672.02" font-size="10.6" text-anchor="middle" >a</text>
<line x1="463.85" y1="673.03" x2="463.85" y2="684.61" stroke="#666" stroke-width="0.9"/>
<line x1="461.55" y1="673.03" x2="466.15" y2="673.03" stroke="#333" stroke-width="0.9"/>
<line x1="461.55" y1="684.61" x2="466.15" y2="684.61" stroke="#333" stroke-width="0.9"/>
<text x="463.85" y="670.73" font-size="10.6" text-anchor="middle" >a</text>
<line x1="487.4" y1="672.81" x2="487.4" y2="689.11" stroke="#666" stroke-width="0.9"/>
<line x1="485.1" y1="672.81" x2="489.7" y2="672.81" stroke="#333" stroke-width="0.9"/>
<line x1="485.1" y1="689.11" x2="489.7" y2="689.11" stroke="#333" stroke-width="0.9"/>
<text x="487.4" y="670.51" font-size="10.6" text-anchor="middle" >a</text>
<line x1="499.35" y1="680.32" x2="499.35" y2="686.75" stroke="#666" stroke-width="0.9"/>
<line x1="497.05" y1="680.32" x2="501.65" y2="680.32" stroke="#333" stroke-width="0.9"/>
<line x1="497.05" y1="686.75" x2="501.65" y2="686.75" stroke="#333" stroke-width="0.9"/>
<text x="499.35" y="678.02" font-size="10.6" text-anchor="middle" >a</text>
<line x1="509" y1="684.26" x2="513.6" y2="684.26" stroke="#222" stroke-width="1.2"/>
<text x="511.3" y="680.81" font-size="10.6" text-anchor="middle" >a</text>
<line x1="523.35" y1="682.25" x2="523.35" y2="683.53" stroke="#666" stroke-width="0.9"/>
<line x1="521.05" y1="682.25" x2="525.65" y2="682.25" stroke="#333" stroke-width="0.9"/>
<line x1="521.05" y1="683.53" x2="525.65" y2="683.53" stroke="#333" stroke-width="0.9"/>
<text x="523.35" y="679.73" font-size="10.6" text-anchor="middle" >a</text>
<line x1="545" y1="696.91" x2="549.6" y2="696.91" stroke="#222" stroke-width="1.2"/>
<text x="547.3" y="693.46" font-size="10.6" text-anchor="middle" >a</text>
<line x1="559.25" y1="693.4" x2="559.25" y2="694.68" stroke="#666" stroke-width="0.9"/>
<line x1="556.95" y1="693.4" x2="561.55" y2="693.4" stroke="#333" stroke-width="0.9"/>
<line x1="556.95" y1="694.68" x2="561.55" y2="694.68" stroke="#333" stroke-width="0.9"/>
<text x="559.25" y="690.88" font-size="10.6" text-anchor="middle" >a</text>
<line x1="571.2" y1="689.11" x2="571.2" y2="697.68" stroke="#666" stroke-width="0.9"/>
<line x1="568.9" y1="689.11" x2="573.5" y2="689.11" stroke="#333" stroke-width="0.9"/>
<line x1="568.9" y1="697.68" x2="573.5" y2="697.68" stroke="#333" stroke-width="0.9"/>
<text x="571.2" y="686.81" font-size="10.6" text-anchor="middle" >a</text>
<line x1="583.25" y1="692.11" x2="583.25" y2="693.83" stroke="#666" stroke-width="0.9"/>
<line x1="580.95" y1="692.11" x2="585.55" y2="692.11" stroke="#333" stroke-width="0.9"/>
<line x1="580.95" y1="693.83" x2="585.55" y2="693.83" stroke="#333" stroke-width="0.9"/>
<text x="583.25" y="689.81" font-size="10.6" text-anchor="middle" >a</text>
<line x1="356.4" y1="726.7" x2="356.4" y2="533.24" stroke="#555555" stroke-width="1.3"/>
<line x1="355.8" y1="726.2" x2="596" y2="726.2" stroke="#555555" stroke-width="1.2"/>
<line x1="356.4" y1="726.2" x2="359.4" y2="726.2" stroke="#555555" stroke-width="1.0"/>
<text x="352.4" y="729.7" font-size="10.4" text-anchor="end" >0.0</text>
<line x1="356.4" y1="704.76" x2="358.4" y2="704.76" stroke="#555555" stroke-width="1.0"/>
<line x1="356.4" y1="683.32" x2="359.4" y2="683.32" stroke="#555555" stroke-width="1.0"/>
<text x="352.4" y="686.82" font-size="10.4" text-anchor="end" >0.2</text>
<line x1="356.4" y1="661.88" x2="358.4" y2="661.88" stroke="#555555" stroke-width="1.0"/>
<line x1="356.4" y1="640.44" x2="359.4" y2="640.44" stroke="#555555" stroke-width="1.0"/>
<text x="352.4" y="643.94" font-size="10.4" text-anchor="end" >0.4</text>
<line x1="356.4" y1="619" x2="358.4" y2="619" stroke="#555555" stroke-width="1.0"/>
<line x1="356.4" y1="597.56" x2="359.4" y2="597.56" stroke="#555555" stroke-width="1.0"/>
<text x="352.4" y="601.06" font-size="10.4" text-anchor="end" >0.6</text>
<line x1="356.4" y1="576.12" x2="358.4" y2="576.12" stroke="#555555" stroke-width="1.0"/>
<line x1="356.4" y1="554.68" x2="359.4" y2="554.68" stroke="#555555" stroke-width="1.0"/>
<text x="352.4" y="558.18" font-size="10.4" text-anchor="end" >0.8</text>
<line x1="356.4" y1="533.24" x2="358.4" y2="533.24" stroke="#555555" stroke-width="1.0"/>
<text x="329.5" y="539.5" font-size="11" text-anchor="start" >f)</text>
<text x="460" y="549.5" font-size="10.3" text-anchor="middle" >CX水稻土</text>
<text x="461" y="561.2" font-size="10.2" text-anchor="middle" >Paddy soil of Cixi</text>
<rect x="549.3" y="538.8" width="20.4" height="9.4" fill="#ffffff" stroke="#3a3a3a" stroke-width="0.9" />
<text x="572.3" y="547.4" font-size="10.6" text-anchor="start" >CK</text>
<rect x="549.3" y="549.95" width="20.4" height="9.4" fill="url(#hpe)" stroke="#3a3a3a" stroke-width="0.9" />
<text x="572.3" y="558.55" font-size="10.6" text-anchor="start" >PE</text>
<rect x="549.3" y="561.1" width="20.4" height="9.4" fill="url(#hbio)" stroke="#3a3a3a" stroke-width="0.9" />
<text x="572.3" y="569.7" font-size="10.6" text-anchor="start" >Bio</text>
<rect x="549.3" y="572.25" width="20.4" height="9.4" fill="#c4c0c6" stroke="#3a3a3a" stroke-width="0.9" />
<text x="572.3" y="580.85" font-size="10.6" text-anchor="start" >PVC</text>
<text x="0" y="3.5" font-size="10.6" text-anchor="middle" transform="translate(366.3,737.2) rotate(-45)">CK</text>
<text x="0" y="3.5" font-size="10.6" text-anchor="middle" transform="translate(381.15,735.2) rotate(-45)">PE</text>
<text x="0" y="3.5" font-size="10.6" text-anchor="middle" transform="translate(393.4,737) rotate(-45)">Bio</text>
<text x="0" y="3.5" font-size="10.6" text-anchor="middle" transform="translate(407.95,737.9) rotate(-45)">PVC</text>
<text x="0" y="3.5" font-size="10.6" text-anchor="middle" transform="translate(425.8,737.2) rotate(-45)">CK</text>
<text x="0" y="3.5" font-size="10.6" text-anchor="middle" transform="translate(440.65,735.2) rotate(-45)">PE</text>
<text x="0" y="3.5" font-size="10.6" text-anchor="middle" transform="translate(452.9,737) rotate(-45)">Bio</text>
<text x="0" y="3.5" font-size="10.6" text-anchor="middle" transform="translate(467.45,737.9) rotate(-45)">PVC</text>
<text x="0" y="3.5" font-size="10.6" text-anchor="middle" transform="translate(485.3,737.2) rotate(-45)">CK</text>
<text x="0" y="3.5" font-size="10.6" text-anchor="middle" transform="translate(500.15,735.2) rotate(-45)">PE</text>
<text x="0" y="3.5" font-size="10.6" text-anchor="middle" transform="translate(512.4,737) rotate(-45)">Bio</text>
<text x="0" y="3.5" font-size="10.6" text-anchor="middle" transform="translate(526.95,737.9) rotate(-45)">PVC</text>
<text x="0" y="3.5" font-size="10.6" text-anchor="middle" transform="translate(545.2,737.2) rotate(-45)">CK</text>
<text x="0" y="3.5" font-size="10.6" text-anchor="middle" transform="translate(560.05,735.2) rotate(-45)">PE</text>
<text x="0" y="3.5" font-size="10.6" text-anchor="middle" transform="translate(572.3,737) rotate(-45)">Bio</text>
<text x="0" y="3.5" font-size="10.6" text-anchor="middle" transform="translate(586.85,737.9) rotate(-45)">PVC</text>
<line x1="362.2" y1="750.8" x2="410.55" y2="750.8" stroke="#555" stroke-width="1.1"/>
<text x="386.38" y="761.7" font-size="10.4" text-anchor="middle" >15</text>
<line x1="421.7" y1="750.8" x2="470.05" y2="750.8" stroke="#555" stroke-width="1.1"/>
<text x="445.88" y="761.7" font-size="10.4" text-anchor="middle" >30</text>
<line x1="481.2" y1="750.8" x2="529.55" y2="750.8" stroke="#555" stroke-width="1.1"/>
<text x="505.38" y="761.7" font-size="10.4" text-anchor="middle" >45</text>
<line x1="541.1" y1="750.8" x2="589.45" y2="750.8" stroke="#555" stroke-width="1.1"/>
<text x="565.27" y="761.7" font-size="10.4" text-anchor="middle" >60</text>
<text x="475.9" y="776.2" font-size="10.4" text-anchor="middle" >培养时间 Incubation time/d</text>
<text x="0" y="0" font-size="10.5" text-anchor="middle" transform="translate(318.6,634.3) rotate(-90)" >组分C2的Fmax</text>
<text x="0" y="0" font-size="10.3" text-anchor="middle" transform="translate(332.4,632.6) rotate(-90)" >Fmax intensity of component C2/(a.u.)</text>
<rect x="69.95" y="927.27" width="9.1" height="51.03" fill="#ffffff" />
<line x1="69.95" y1="978.3" x2="69.95" y2="927.27" stroke="#8a8a8a" stroke-width="0.95"/>
<path d="M69.5,927.27 L79.05,927.27 L79.05,978.3" fill="none" stroke="#333" stroke-width="0.9"/>
<rect x="81.9" y="923.2" width="9.1" height="55.1" fill="url(#hpe)" />
<line x1="81.9" y1="978.3" x2="81.9" y2="923.2" stroke="#8a8a8a" stroke-width="0.95"/>
<path d="M81.45,923.2 L91,923.2 L91,978.3" fill="none" stroke="#333" stroke-width="0.9"/>
<rect x="93.85" y="918.48" width="9.1" height="59.82" fill="url(#hbio)" />
<line x1="93.85" y1="978.3" x2="93.85" y2="918.48" stroke="#8a8a8a" stroke-width="0.95"/>
<path d="M93.4,918.48 L102.95,918.48 L102.95,978.3" fill="none" stroke="#333" stroke-width="0.9"/>
<rect x="105.9" y="918.91" width="9.1" height="59.39" fill="#c4c0c6" />
<line x1="105.9" y1="978.3" x2="105.9" y2="918.91" stroke="#8a8a8a" stroke-width="0.95"/>
<path d="M105.45,918.91 L115,918.91 L115,978.3" fill="none" stroke="#333" stroke-width="0.9"/>
<rect x="129.75" y="883.19" width="9.1" height="95.11" fill="#ffffff" />
<line x1="129.75" y1="978.3" x2="129.75" y2="883.19" stroke="#8a8a8a" stroke-width="0.95"/>
<path d="M129.3,883.19 L138.85,883.19 L138.85,978.3" fill="none" stroke="#333" stroke-width="0.9"/>
<rect x="141.7" y="876.89" width="9.1" height="101.41" fill="url(#hpe)" />
<line x1="141.7" y1="978.3" x2="141.7" y2="876.89" stroke="#8a8a8a" stroke-width="0.95"/>
<path d="M141.25,876.89 L150.8,876.89 L150.8,978.3" fill="none" stroke="#333" stroke-width="0.9"/>
<rect x="153.65" y="876.89" width="9.1" height="101.41" fill="url(#hbio)" />
<line x1="153.65" y1="978.3" x2="153.65" y2="876.89" stroke="#8a8a8a" stroke-width="0.95"/>
<path d="M153.2,876.89 L162.75,876.89 L162.75,978.3" fill="none" stroke="#333" stroke-width="0.9"/>
<rect x="165.7" y="874.21" width="9.1" height="104.09" fill="#c4c0c6" />
<line x1="165.7" y1="978.3" x2="165.7" y2="874.21" stroke="#8a8a8a" stroke-width="0.95"/>
<path d="M165.25,874.21 L174.8,874.21 L174.8,978.3" fill="none" stroke="#333" stroke-width="0.9"/>
<rect x="189.35" y="925.19" width="9.1" height="53.11" fill="#ffffff" />
<line x1="189.35" y1="978.3" x2="189.35" y2="925.19" stroke="#8a8a8a" stroke-width="0.95"/>
<path d="M188.9,925.19 L198.45,925.19 L198.45,978.3" fill="none" stroke="#333" stroke-width="0.9"/>
<rect x="201.3" y="917.41" width="9.1" height="60.89" fill="url(#hpe)" />
<line x1="201.3" y1="978.3" x2="201.3" y2="917.41" stroke="#8a8a8a" stroke-width="0.95"/>
<path d="M200.85,917.41 L210.4,917.41 L210.4,978.3" fill="none" stroke="#333" stroke-width="0.9"/>
<rect x="213.25" y="910.89" width="9.1" height="67.41" fill="url(#hbio)" />
<line x1="213.25" y1="978.3" x2="213.25" y2="910.89" stroke="#8a8a8a" stroke-width="0.95"/>
<path d="M212.8,910.89 L222.35,910.89 L222.35,978.3" fill="none" stroke="#333" stroke-width="0.9"/>
<rect x="225.3" y="914.3" width="9.1" height="64" fill="#c4c0c6" />
<line x1="225.3" y1="978.3" x2="225.3" y2="914.3" stroke="#8a8a8a" stroke-width="0.95"/>
<path d="M224.85,914.3 L234.4,914.3 L234.4,978.3" fill="none" stroke="#333" stroke-width="0.9"/>
<rect x="248.95" y="946.35" width="9.1" height="31.95" fill="#ffffff" />
<line x1="248.95" y1="978.3" x2="248.95" y2="946.35" stroke="#8a8a8a" stroke-width="0.95"/>
<path d="M248.5,946.35 L258.05,946.35 L258.05,978.3" fill="none" stroke="#333" stroke-width="0.9"/>
<rect x="260.9" y="945.28" width="9.1" height="33.02" fill="url(#hpe)" />
<line x1="260.9" y1="978.3" x2="260.9" y2="945.28" stroke="#8a8a8a" stroke-width="0.95"/>
<path d="M260.45,945.28 L270,945.28 L270,978.3" fill="none" stroke="#333" stroke-width="0.9"/>
<rect x="272.85" y="942.5" width="9.1" height="35.8" fill="url(#hbio)" />
<line x1="272.85" y1="978.3" x2="272.85" y2="942.5" stroke="#8a8a8a" stroke-width="0.95"/>
<path d="M272.4,942.5 L281.95,942.5 L281.95,978.3" fill="none" stroke="#333" stroke-width="0.9"/>
<rect x="284.9" y="943.78" width="9.1" height="34.52" fill="#c4c0c6" />
<line x1="284.9" y1="978.3" x2="284.9" y2="943.78" stroke="#8a8a8a" stroke-width="0.95"/>
<path d="M284.45,943.78 L294,943.78 L294,978.3" fill="none" stroke="#333" stroke-width="0.9"/>
<line x1="74.5" y1="926.63" x2="74.5" y2="927.92" stroke="#666" stroke-width="0.9"/>
<line x1="72.2" y1="926.63" x2="76.8" y2="926.63" stroke="#333" stroke-width="0.9"/>
<line x1="72.2" y1="927.92" x2="76.8" y2="927.92" stroke="#333" stroke-width="0.9"/>
<text x="74.5" y="924.12" font-size="10.6" text-anchor="middle" >a</text>
<line x1="86.45" y1="916.12" x2="86.45" y2="930.27" stroke="#666" stroke-width="0.9"/>
<line x1="84.15" y1="916.12" x2="88.75" y2="916.12" stroke="#333" stroke-width="0.9"/>
<line x1="84.15" y1="930.27" x2="88.75" y2="930.27" stroke="#333" stroke-width="0.9"/>
<text x="86.45" y="913.82" font-size="10.6" text-anchor="middle" >a</text>
<line x1="98.4" y1="913.98" x2="98.4" y2="922.98" stroke="#666" stroke-width="0.9"/>
<line x1="96.1" y1="913.98" x2="100.7" y2="913.98" stroke="#333" stroke-width="0.9"/>
<line x1="96.1" y1="922.98" x2="100.7" y2="922.98" stroke="#333" stroke-width="0.9"/>
<text x="98.4" y="911.68" font-size="10.6" text-anchor="middle" >a</text>
<line x1="110.45" y1="915.05" x2="110.45" y2="922.77" stroke="#666" stroke-width="0.9"/>
<line x1="108.15" y1="915.05" x2="112.75" y2="915.05" stroke="#333" stroke-width="0.9"/>
<line x1="108.15" y1="922.77" x2="112.75" y2="922.77" stroke="#333" stroke-width="0.9"/>
<text x="110.45" y="912.75" font-size="10.6" text-anchor="middle" >a</text>
<line x1="134.3" y1="877.94" x2="134.3" y2="888.44" stroke="#666" stroke-width="0.9"/>
<line x1="132" y1="877.94" x2="136.6" y2="877.94" stroke="#333" stroke-width="0.9"/>
<line x1="132" y1="888.44" x2="136.6" y2="888.44" stroke="#333" stroke-width="0.9"/>
<text x="134.3" y="875.64" font-size="10.6" text-anchor="middle" >a</text>
<line x1="146.25" y1="868.74" x2="146.25" y2="885.04" stroke="#666" stroke-width="0.9"/>
<line x1="143.95" y1="868.74" x2="148.55" y2="868.74" stroke="#333" stroke-width="0.9"/>
<line x1="143.95" y1="885.04" x2="148.55" y2="885.04" stroke="#333" stroke-width="0.9"/>
<text x="146.25" y="866.44" font-size="10.6" text-anchor="middle" >a</text>
<line x1="158.2" y1="871.1" x2="158.2" y2="882.68" stroke="#666" stroke-width="0.9"/>
<line x1="155.9" y1="871.1" x2="160.5" y2="871.1" stroke="#333" stroke-width="0.9"/>
<line x1="155.9" y1="882.68" x2="160.5" y2="882.68" stroke="#333" stroke-width="0.9"/>
<text x="158.2" y="868.8" font-size="10.6" text-anchor="middle" >a</text>
<line x1="170.25" y1="864.56" x2="170.25" y2="883.86" stroke="#666" stroke-width="0.9"/>
<line x1="167.95" y1="864.56" x2="172.55" y2="864.56" stroke="#333" stroke-width="0.9"/>
<line x1="167.95" y1="883.86" x2="172.55" y2="883.86" stroke="#333" stroke-width="0.9"/>
<text x="170.25" y="862.26" font-size="10.6" text-anchor="middle" >a</text>
<line x1="193.9" y1="921.55" x2="193.9" y2="928.84" stroke="#666" stroke-width="0.9"/>
<line x1="191.6" y1="921.55" x2="196.2" y2="921.55" stroke="#333" stroke-width="0.9"/>
<line x1="191.6" y1="928.84" x2="196.2" y2="928.84" stroke="#333" stroke-width="0.9"/>
<text x="193.9" y="919.25" font-size="10.6" text-anchor="middle" >a</text>
<line x1="205.85" y1="910.34" x2="205.85" y2="924.49" stroke="#666" stroke-width="0.9"/>
<line x1="203.55" y1="910.34" x2="208.15" y2="910.34" stroke="#333" stroke-width="0.9"/>
<line x1="203.55" y1="924.49" x2="208.15" y2="924.49" stroke="#333" stroke-width="0.9"/>
<text x="205.85" y="908.04" font-size="10.6" text-anchor="middle" >a</text>
<line x1="217.8" y1="905.85" x2="217.8" y2="915.93" stroke="#666" stroke-width="0.9"/>
<line x1="215.5" y1="905.85" x2="220.1" y2="905.85" stroke="#333" stroke-width="0.9"/>
<line x1="215.5" y1="915.93" x2="220.1" y2="915.93" stroke="#333" stroke-width="0.9"/>
<text x="217.8" y="903.55" font-size="10.6" text-anchor="middle" >a</text>
<line x1="229.85" y1="912.8" x2="229.85" y2="915.8" stroke="#666" stroke-width="0.9"/>
<line x1="227.55" y1="912.8" x2="232.15" y2="912.8" stroke="#333" stroke-width="0.9"/>
<line x1="227.55" y1="915.8" x2="232.15" y2="915.8" stroke="#333" stroke-width="0.9"/>
<text x="229.85" y="910.5" font-size="10.6" text-anchor="middle" >a</text>
<line x1="251.2" y1="946.65" x2="255.8" y2="946.65" stroke="#222" stroke-width="1.2"/>
<text x="253.5" y="943.2" font-size="10.6" text-anchor="middle" >a</text>
<line x1="265.45" y1="944.42" x2="265.45" y2="946.14" stroke="#666" stroke-width="0.9"/>
<line x1="263.15" y1="944.42" x2="267.75" y2="944.42" stroke="#333" stroke-width="0.9"/>
<line x1="263.15" y1="946.14" x2="267.75" y2="946.14" stroke="#333" stroke-width="0.9"/>
<text x="265.45" y="942.12" font-size="10.6" text-anchor="middle" >a</text>
<line x1="277.4" y1="939.71" x2="277.4" y2="945.28" stroke="#666" stroke-width="0.9"/>
<line x1="275.1" y1="939.71" x2="279.7" y2="939.71" stroke="#333" stroke-width="0.9"/>
<line x1="275.1" y1="945.28" x2="279.7" y2="945.28" stroke="#333" stroke-width="0.9"/>
<text x="277.4" y="937.41" font-size="10.6" text-anchor="middle" >a</text>
<line x1="287.15" y1="944.08" x2="291.75" y2="944.08" stroke="#222" stroke-width="1.2"/>
<text x="289.45" y="940.62" font-size="10.6" text-anchor="middle" >a</text>
<line x1="62.5" y1="978.8" x2="62.5" y2="785.34" stroke="#555555" stroke-width="1.3"/>
<line x1="61.9" y1="978.3" x2="302" y2="978.3" stroke="#555555" stroke-width="1.2"/>
<line x1="62.5" y1="978.3" x2="65.5" y2="978.3" stroke="#555555" stroke-width="1.0"/>
<text x="58.5" y="981.8" font-size="10.4" text-anchor="end" >0.0</text>
<line x1="62.5" y1="956.86" x2="64.5" y2="956.86" stroke="#555555" stroke-width="1.0"/>
<line x1="62.5" y1="935.42" x2="65.5" y2="935.42" stroke="#555555" stroke-width="1.0"/>
<text x="58.5" y="938.92" font-size="10.4" text-anchor="end" >0.2</text>
<line x1="62.5" y1="913.98" x2="64.5" y2="913.98" stroke="#555555" stroke-width="1.0"/>
<line x1="62.5" y1="892.54" x2="65.5" y2="892.54" stroke="#555555" stroke-width="1.0"/>
<text x="58.5" y="896.04" font-size="10.4" text-anchor="end" >0.4</text>
<line x1="62.5" y1="871.1" x2="64.5" y2="871.1" stroke="#555555" stroke-width="1.0"/>
<line x1="62.5" y1="849.66" x2="65.5" y2="849.66" stroke="#555555" stroke-width="1.0"/>
<text x="58.5" y="853.16" font-size="10.4" text-anchor="end" >0.6</text>
<line x1="62.5" y1="828.22" x2="64.5" y2="828.22" stroke="#555555" stroke-width="1.0"/>
<line x1="62.5" y1="806.78" x2="65.5" y2="806.78" stroke="#555555" stroke-width="1.0"/>
<text x="58.5" y="810.28" font-size="10.4" text-anchor="end" >0.8</text>
<line x1="62.5" y1="785.34" x2="64.5" y2="785.34" stroke="#555555" stroke-width="1.0"/>
<text x="39.6" y="792.8" font-size="11" text-anchor="start" >g)</text>
<text x="161.3" y="805.5" font-size="10.3" text-anchor="middle" >CX水稻土</text>
<text x="162.5" y="817.3" font-size="10.2" text-anchor="middle" >Paddy soil of Cixi</text>
<rect x="255.3" y="790.4" width="20.4" height="9.4" fill="#ffffff" stroke="#3a3a3a" stroke-width="0.9" />
<text x="278.3" y="799" font-size="10.6" text-anchor="start" >CK</text>
<rect x="255.3" y="801.55" width="20.4" height="9.4" fill="url(#hpe)" stroke="#3a3a3a" stroke-width="0.9" />
<text x="278.3" y="810.15" font-size="10.6" text-anchor="start" >PE</text>
<rect x="255.3" y="812.7" width="20.4" height="9.4" fill="url(#hbio)" stroke="#3a3a3a" stroke-width="0.9" />
<text x="278.3" y="821.3" font-size="10.6" text-anchor="start" >Bio</text>
<rect x="255.3" y="823.85" width="20.4" height="9.4" fill="#c4c0c6" stroke="#3a3a3a" stroke-width="0.9" />
<text x="278.3" y="832.45" font-size="10.6" text-anchor="start" >PVC</text>
<text x="0" y="3.5" font-size="10.6" text-anchor="middle" transform="translate(72.4,988.2) rotate(-45)">CK</text>
<text x="0" y="3.5" font-size="10.6" text-anchor="middle" transform="translate(87.25,986.2) rotate(-45)">PE</text>
<text x="0" y="3.5" font-size="10.6" text-anchor="middle" transform="translate(99.5,988) rotate(-45)">Bio</text>
<text x="0" y="3.5" font-size="10.6" text-anchor="middle" transform="translate(114.05,988.9) rotate(-45)">PVC</text>
<text x="0" y="3.5" font-size="10.6" text-anchor="middle" transform="translate(132.2,988.2) rotate(-45)">CK</text>
<text x="0" y="3.5" font-size="10.6" text-anchor="middle" transform="translate(147.05,986.2) rotate(-45)">PE</text>
<text x="0" y="3.5" font-size="10.6" text-anchor="middle" transform="translate(159.3,988) rotate(-45)">Bio</text>
<text x="0" y="3.5" font-size="10.6" text-anchor="middle" transform="translate(173.85,988.9) rotate(-45)">PVC</text>
<text x="0" y="3.5" font-size="10.6" text-anchor="middle" transform="translate(191.8,988.2) rotate(-45)">CK</text>
<text x="0" y="3.5" font-size="10.6" text-anchor="middle" transform="translate(206.65,986.2) rotate(-45)">PE</text>
<text x="0" y="3.5" font-size="10.6" text-anchor="middle" transform="translate(218.9,988) rotate(-45)">Bio</text>
<text x="0" y="3.5" font-size="10.6" text-anchor="middle" transform="translate(233.45,988.9) rotate(-45)">PVC</text>
<text x="0" y="3.5" font-size="10.6" text-anchor="middle" transform="translate(251.4,988.2) rotate(-45)">CK</text>
<text x="0" y="3.5" font-size="10.6" text-anchor="middle" transform="translate(266.25,986.2) rotate(-45)">PE</text>
<text x="0" y="3.5" font-size="10.6" text-anchor="middle" transform="translate(278.5,988) rotate(-45)">Bio</text>
<text x="0" y="3.5" font-size="10.6" text-anchor="middle" transform="translate(293.05,988.9) rotate(-45)">PVC</text>
<line x1="68.3" y1="1001.8" x2="116.65" y2="1001.8" stroke="#555" stroke-width="1.1"/>
<text x="92.47" y="1013.25" font-size="10.4" text-anchor="middle" >15</text>
<line x1="128.1" y1="1001.8" x2="176.45" y2="1001.8" stroke="#555" stroke-width="1.1"/>
<text x="152.28" y="1013.25" font-size="10.4" text-anchor="middle" >30</text>
<line x1="187.7" y1="1001.8" x2="236.05" y2="1001.8" stroke="#555" stroke-width="1.1"/>
<text x="211.88" y="1013.25" font-size="10.4" text-anchor="middle" >45</text>
<line x1="247.3" y1="1001.8" x2="295.65" y2="1001.8" stroke="#555" stroke-width="1.1"/>
<text x="271.48" y="1013.25" font-size="10.4" text-anchor="middle" >60</text>
<text x="177.2" y="1027.2" font-size="10.4" text-anchor="middle" >培养时间 Incubation time/d</text>
<text x="0" y="0" font-size="10.5" text-anchor="middle" transform="translate(30,881) rotate(-90)" >组分C3的Fmax</text>
<text x="0" y="0" font-size="10.3" text-anchor="middle" transform="translate(38.2,888.7) rotate(-90)" >Fmax intensity of component C3/(a.u.)</text>
</svg>
</body></html>
